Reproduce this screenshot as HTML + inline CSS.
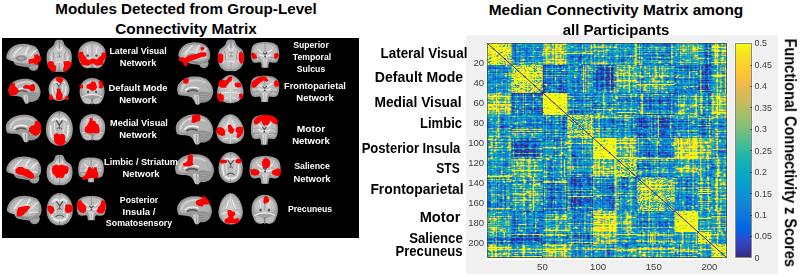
<!DOCTYPE html>
<html><head><meta charset="utf-8"><style>
html,body{margin:0;padding:0;background:#fff;}
body{width:800px;height:277px;overflow:hidden;position:relative;font-family:"Liberation Sans",sans-serif;}
.t{position:absolute;width:300px;text-align:center;white-space:nowrap;transform-origin:center;}
.tk{position:absolute;font-size:8.7px;line-height:8.7px;color:#404040;white-space:nowrap;}
.mk{position:absolute;background:rgba(40,40,40,.6);}
.tk2{font-size:9.6px;line-height:9.6px;}
#blk{position:absolute;left:2px;top:38px;width:357px;height:200px;background:#000;}
#gray{position:absolute;left:466px;top:35px;width:311.6px;height:238.8px;background:#f0f0f0;}
#mwhite{position:absolute;left:486px;top:42px;width:241.6px;height:217.6px;background:#fff;}
#mat{position:absolute;left:487.3px;top:43.3px;width:239.4px;height:215px;overflow:hidden;}
#mat svg,#mat canvas{position:absolute;left:0;top:0;width:239.4px;height:215px;}
#mbox{position:absolute;left:487px;top:43px;width:239.7px;height:215.4px;box-sizing:border-box;border:1px solid rgba(40,40,40,.55);}
#cwhite{position:absolute;left:734px;top:42.3px;width:18.8px;height:217.2px;background:#fff;}
#cbar{position:absolute;left:735px;top:43.3px;width:16.8px;height:215px;box-sizing:border-box;border:1px solid rgba(40,40,40,.55);background-clip:padding-box;background-color:#fff;background-image:linear-gradient(to bottom,#f9fb0e 0.00%,#f6f313 1.59%,#f5eb18 3.17%,#f5e41d 4.76%,#f5de21 6.35%,#f7d826 7.94%,#fad32a 9.52%,#fcce2e 11.11%,#fec832 12.70%,#ffc337 14.29%,#fdbe3d 15.87%,#f8bb44 17.46%,#f1b94a 19.05%,#e9b94e 20.63%,#e1b952 22.22%,#d9ba56 23.81%,#d1bb59 25.40%,#c8bc5d 26.98%,#c0bc60 28.57%,#b7bd64 30.16%,#aebe67 31.75%,#a5be6b 33.33%,#9cbf6f 34.92%,#92bf73 36.51%,#87bf77 38.10%,#7cbf7b 39.68%,#71bf80 41.27%,#65be86 42.86%,#59bd8c 44.44%,#4dbc92 46.03%,#42bb98 47.62%,#38b99e 49.21%,#2eb7a4 50.79%,#25b5a9 52.38%,#1db3af 53.97%,#15b1b4 55.56%,#0faeb9 57.14%,#0aacbe 58.73%,#07a9c2 60.32%,#06a7c6 61.90%,#06a4ca 63.49%,#06a0cd 65.08%,#079ccf 66.67%,#0998d1 68.25%,#0c93d2 69.84%,#108ed2 71.43%,#1389d3 73.02%,#1485d4 74.60%,#1481d6 76.19%,#127dd8 77.78%,#1079da 79.37%,#0d75dc 80.95%,#0871de 82.54%,#046de0 84.13%,#0268e1 85.71%,#0363e1 87.30%,#0f5cdd 88.89%,#2053d4 90.48%,#2c4ac7 92.06%,#3243ba 93.65%,#353dad 95.24%,#3637a0 96.83%,#363093 98.41%,#352a87 100.00%);}
#ylab{position:absolute;left:790.3px;top:153.0px;width:0;height:0;}
#ylab div{position:absolute;left:-150px;top:-7.8px;width:300px;text-align:center;font-size:15.6px;line-height:15.6px;font-weight:bold;white-space:nowrap;transform:rotate(90deg) scaleX(0.931);}
</style></head><body>
<div id="blk"></div>
<svg id="brains" width="800" height="277" viewBox="0 0 800 277" style="position:absolute;left:0;top:0"><defs>
<filter id="bl" x="-10%" y="-10%" width="120%" height="120%"><feGaussianBlur stdDeviation="0.45"/></filter>
<filter id="bl2" x="-10%" y="-10%" width="120%" height="120%"><feGaussianBlur stdDeviation="0.25"/></filter>
<radialGradient id="gW" cx="50%" cy="50%" r="55%"><stop offset="0" stop-color="#d0d0d0"/><stop offset="0.7" stop-color="#c2c2c2"/><stop offset="1" stop-color="#adadad"/></radialGradient>
<symbol id="sagL" viewBox="0 0 100 100" preserveAspectRatio="none" overflow="visible">
 <path id="pSL" d="M0.8,52.8 C0,34.3 12.6,11.1 32.3,4.2 C48,-1.4 67.7,0.9 83.5,10.2 C94.5,19.4 100,36.6 99.2,52.8 C98.8,62 96,69 92.1,72.2 C96,78.2 95.3,92.1 85.4,98.1 C76.4,101.4 67.7,96.8 65.7,87.5 C55.9,84.3 40.2,82.9 30.3,79.2 C25.2,75.9 22.4,69 20.5,64.4 C12.6,63 4.7,61.1 0.8,52.8Z" fill="#9a9a9a"/>
 <path d="M8,50 C8,32 20,16 38,11 C52,7 68,9 80,16 C90,24 93,38 92,52 C91,62 86,68 80,70 C65,74 45,72 30,68 C18,64 9,60 8,50Z" fill="url(#gW)"/>
 <ellipse cx="44" cy="54" rx="17" ry="11" fill="#8e8e8e"/>
 <ellipse cx="44" cy="54" rx="9" ry="5" fill="#a8a8a8"/>
 <g fill="none" stroke="#f0f0f0" stroke-width="4" stroke-linecap="round" opacity="0.85">
  <path d="M22,46 Q30,26 45,14"/><path d="M56,38 Q60,24 66,12"/><path d="M72,44 Q80,30 88,24"/><path d="M64,60 Q76,56 88,58"/>
 </g>
 <g fill="none" stroke="#a0a0a0" stroke-width="2.2" stroke-linecap="round"><path d="M38,28 Q45,18 52,10"/><path d="M62,32 Q70,22 78,16"/><path d="M14,40 Q20,28 30,20"/></g>
 <path d="M30,72 C45,76 58,78 66,84 C72,80 82,76 92,74" fill="none" stroke="#6e6e6e" stroke-width="2.2"/>
 <ellipse cx="80" cy="87" rx="11" ry="8" fill="#9c9c9c"/>
 <path d="M72,86 Q80,82 90,86" fill="none" stroke="#c8c8c8" stroke-width="1.5"/>
</symbol>
<symbol id="sagM" viewBox="0 0 100 100" preserveAspectRatio="none" overflow="visible">
 <path d="M1.6,60.6 C-1,52 -1,42 -0.6,41.5 C1,32 3,27 6.5,22.5 C12,15 17,10 22.6,7.6 C29,4 35,1.5 41.9,0.8 C49,0 56,0 62.9,1.3 C70,3 76,6 80.6,9.7 C86,14 90,20 93.5,26.7 C97,33 99,40 100,47.9 C101,54 100,61 98.4,66.9 C97,73 95,78 91.9,81.8 C88,86 84,89 79,91.5 C75,93 70,93 66.1,92.4 C64,95 62,99 59.7,100 C57,101 54,100 51.6,98.7 C50,94 48,90 46.8,86 C44,80 41,76 38.7,73.3 C34,71 30,70 25.8,69.1 C20,68.5 15,68.5 11.3,67.8 C8,67 5,66 3.2,64.8 C2.5,63.5 2,62 1.6,60.6Z" fill="#9a9a9a"/>
 <path d="M7,56 C5,42 9,28 20,18 C30,10 44,6 58,7 C72,8 84,16 90,28 C95,38 95,50 92,58 C86,54 74,52 62,54 C50,50 40,52 32,58 C24,62 14,62 7,56Z" fill="#b4b4b4"/>
 <path d="M12,50 C12,36 22,22 38,16 C52,12 68,14 78,22" fill="none" stroke="#cfcfcf" stroke-width="6"/>
 <path d="M22.6,50 C26,44 29,41 32.3,40.7 C37,38.5 41,38 45.2,38.1 C51,38.5 57,40 61.3,43.6" fill="none" stroke="#f2f2f2" stroke-width="5"/>
 <path d="M27.4,55 C33,50 37,48.5 41.9,48.5 C48,48.5 53,50 58,53" fill="none" stroke="#5a5a5a" stroke-width="6"/>
 <path d="M38,56 C44,54 54,54 60,58 L62,70 C56,72 46,72 40,68Z" fill="#9e9e9e"/>
 <path d="M46,66 C50,64 58,64 61,68 L60,98 L52,98 C50,90 48,80 46,72Z" fill="#cdcdcd"/>
 <path d="M55,68 L56,96" stroke="#7c7c7c" stroke-width="2"/>
 <path d="M61,58 C70,54 84,56 94,64 C95,74 92,82 86,87 C80,91 72,92 66,90 C63,82 62,70 61,58Z" fill="#8e8e8e"/>
 <g fill="none" stroke="#b8b8b8" stroke-width="1.5"><path d="M64,64 Q78,60 92,67"/><path d="M64,72 Q78,68 93,75"/><path d="M65,80 Q78,77 90,82"/></g>
 <path d="M80,30 C86,40 90,50 92,58" fill="none" stroke="#aaaaaa" stroke-width="3"/>
</symbol>
<symbol id="axI" viewBox="0 0 100 100" preserveAspectRatio="none" overflow="visible">
 <path d="M49.7,1.3 C42.8,-1.3 33.7,2.2 32.1,8.7 C29.4,19.6 18.7,23.9 8,30.4 C0,39.1 -1.6,54.3 1.6,69.6 C5.3,84.8 18.7,95.7 37.4,98.7 L49.7,97.8 L61.5,98.7 C80.2,95.7 93.6,84.8 97.3,69.6 C100.5,54.3 99,39.1 90.9,30.4 C80.2,23.9 69.5,19.6 66.8,8.7 C65.2,2.2 56.1,-1.3 49.7,1.3Z" fill="#9e9e9e"/>
 <path d="M50,8 C42,8 38,14 37,22 C30,28 14,34 10,48 C7,62 12,80 26,88 C36,93 44,92 50,90 C56,92 64,93 74,88 C88,80 93,62 90,48 C86,34 70,28 63,22 C62,14 58,8 50,8Z" fill="url(#gW)"/>
 <path d="M50,3 L50,26" stroke="#7a7a7a" stroke-width="3"/>
 <path d="M36,20 Q42,26 46,34 M64,20 Q58,26 54,34" fill="none" stroke="#f2f2f2" stroke-width="3"/>
 <circle cx="50" cy="47" r="10" fill="#b0b0b0"/>
 <path d="M42,44 Q50,56 58,44" fill="none" stroke="#eeeeee" stroke-width="3"/>
 <circle cx="50" cy="50" r="3" fill="#888"/>
 <g fill="none" stroke="#8a8a8a" stroke-width="2.5"><path d="M24,34 Q32,46 28,62"/><path d="M76,34 Q68,46 72,62"/></g>
 <g fill="none" stroke="#efefef" stroke-width="3"><path d="M16,50 Q22,62 20,74"/><path d="M84,50 Q78,62 80,74"/><path d="M36,70 Q50,64 64,70"/></g>
 <path d="M50,72 L50,97" stroke="#8a8a8a" stroke-width="2"/>
</symbol>
<symbol id="axM" viewBox="0 0 100 100" preserveAspectRatio="none" overflow="visible">
 <path d="M50,0 C74,0 98,20 100,50 C101,80 80,100 50,100 C20,100 -1,80 0,50 C2,20 26,0 50,0Z" fill="#9c9c9c"/>
 <path d="M50,6 C70,6 91,24 92,50 C93,76 74,94 50,94 C26,94 7,76 8,50 C9,24 30,6 50,6Z" fill="#bcbcbc"/>
 <g fill="none" stroke="#ececec" stroke-width="6" stroke-linecap="round"><path d="M24,26 Q36,16 46,24"/><path d="M76,26 Q64,16 54,24"/><path d="M18,42 Q16,58 22,74"/><path d="M82,42 Q84,58 78,74"/><path d="M28,80 Q50,92 72,80"/></g>
 <g fill="none" stroke="#e4e4e4" stroke-width="4"><path d="M32,34 Q30,50 36,62"/><path d="M68,34 Q70,50 64,62"/></g>
 <path d="M38,26 L50,40 L62,26" fill="none" stroke="#4e4e4e" stroke-width="4"/>
 <path d="M50,38 L50,52" stroke="#5a5a5a" stroke-width="3"/>
 <path d="M40,52 L50,46 L60,52" fill="none" stroke="#6a6a6a" stroke-width="3"/>
 <path d="M34,74 Q50,62 66,74" fill="none" stroke="#5a5a5a" stroke-width="3.5"/>
 <path d="M50,1 L50,12 M50,86 L50,99" stroke="#6e6e6e" stroke-width="2.2"/>
</symbol>
<symbol id="axS" viewBox="0 0 100 100" preserveAspectRatio="none" overflow="visible">
 <path d="M50,0 C72,0 95,25 100,55 C103,82 80,100 50,100 C20,100 -3,82 0,55 C5,25 28,0 50,0Z" fill="#a0a0a0"/>
 <path d="M50,6 C70,6 90,28 93,55 C95,78 76,94 50,94 C24,94 5,78 7,55 C10,28 30,6 50,6Z" fill="url(#gW)"/>
 <path d="M50,3 L50,97" stroke="#f4f4f4" stroke-width="3.5"/>
 <path d="M50,3 L50,97" stroke="#8a8a8a" stroke-width="1"/>
 <g fill="none" stroke="#f2f2f2" stroke-width="3"><path d="M44,20 Q36,40 30,50"/><path d="M56,20 Q64,40 70,50"/><path d="M44,62 Q25,60 10,68"/><path d="M56,62 Q75,60 90,68"/><path d="M42,80 Q30,80 20,88"/><path d="M58,80 Q70,80 80,88"/></g>
 <g fill="none" stroke="#a6a6a6" stroke-width="2.5"><path d="M38,14 Q26,34 16,44"/><path d="M62,14 Q74,34 84,44"/><path d="M40,52 Q22,50 8,58"/><path d="M60,52 Q78,50 92,58"/></g>
</symbol>
<symbol id="coP" viewBox="0 0 100 100" preserveAspectRatio="none" overflow="visible">
 <path d="M50,0 C78,0 100,20 100,48 C100,62 97,72 92,80 C88,92 75,100 62,98 L55,92 L50,100 L45,92 L38,98 C25,100 12,92 8,80 C3,72 0,62 0,48 C0,20 22,0 50,0Z" fill="#9e9e9e"/>
 <path d="M50,7 C72,7 92,24 92,48 C92,58 88,64 80,66 L20,66 C12,64 8,58 8,48 C8,24 28,7 50,7Z" fill="url(#gW)"/>
 <path d="M50,2 L50,52" stroke="#8a8a8a" stroke-width="2.5"/>
 <g fill="none" stroke="#f2f2f2" stroke-width="3"><path d="M30,18 Q36,32 34,44"/><path d="M70,18 Q64,32 66,44"/></g>
 <path d="M10,70 Q50,52 90,70" fill="none" stroke="#f4f4f4" stroke-width="3.5"/>
 <circle cx="34" cy="52" r="4.5" fill="#555"/><circle cx="66" cy="52" r="4.5" fill="#555"/>
 <path d="M14,72 C24,70 40,74 48,84 L48,94 C40,98 26,96 16,88Z M86,72 C76,70 60,74 52,84 L52,94 C60,98 74,96 84,88Z" fill="#b8b8b8"/>
 <g fill="none" stroke="#d8d8d8" stroke-width="1.6"><path d="M16,80 Q30,76 45,84"/><path d="M84,80 Q70,76 55,84"/><path d="M20,88 Q32,86 44,92"/><path d="M80,88 Q68,86 56,92"/></g>
 <path d="M50,76 L50,98" stroke="#6a6a6a" stroke-width="2.5"/>
</symbol>
<symbol id="coM" viewBox="0 0 100 100" preserveAspectRatio="none" overflow="visible">
 <path d="M49.5,0 C62,0 74,2 82.5,5.8 C91,10 96,17 97.6,25.7 C99.5,33 100,40 100,47.8 C100,55 99,60 97.6,65.5 C96.5,70 95,73.5 92.9,76.5 C89,80 84,81.5 80.2,81 C75,80.5 70,79.5 66,78.8 C64,81 63,83 62.7,85.4 C62,90 61.5,95 61.3,100 L37.7,100 C37.5,95 37,90 36.3,85.4 C36,83 35,81 33,78.8 C29,79.5 24,80.5 18.9,81 C15,81.5 10,80 6.1,76.5 C4,73.5 2.5,70 1.4,65.5 C0.5,60 0,55 0,47.8 C0,40 0.5,33 2.4,25.7 C4,17 9,10 16.5,5.8 C25,2 37,0 49.5,0Z" fill="#9e9e9e"/>
 <path d="M50,7 C70,7 88,14 91,30 C93,42 93,56 90,64 C86,70 78,70 70,68 L62,66 L60,76 L40,76 L38,66 L30,68 C22,70 14,70 10,64 C7,56 7,42 9,30 C12,14 30,7 50,7Z" fill="#bebebe"/>
 <g fill="none" stroke="#ededed" stroke-width="5" stroke-linecap="round"><path d="M22,24 Q34,40 44,42"/><path d="M78,24 Q66,40 56,42"/><path d="M30,50 Q40,56 46,54"/><path d="M70,50 Q60,56 54,54"/></g>
 <g fill="none" stroke="#a0a0a0" stroke-width="2.5"><path d="M12,20 Q22,30 28,26"/><path d="M88,20 Q78,30 72,26"/><path d="M10,44 Q18,48 24,44"/><path d="M90,44 Q82,48 76,44"/></g>
 <path d="M50,2 L50,38" stroke="#808080" stroke-width="2.5"/>
 <path d="M42,40 L50,48 L58,40" fill="none" stroke="#4a4a4a" stroke-width="4"/>
 <circle cx="50" cy="56" r="3.5" fill="#5a5a5a"/>
 <g fill="none" stroke="#777" stroke-width="2.5"><path d="M6,64 Q18,58 32,62"/><path d="M94,64 Q82,58 68,62"/></g>
 <path d="M12,70 Q22,74 32,72 M88,70 Q78,74 68,72" fill="none" stroke="#bdbdbd" stroke-width="2"/>
 <path d="M42,66 L45,99 L55,99 L58,66Z" fill="#d6d6d6"/>
 <path d="M50,68 L50,98" stroke="#888" stroke-width="1.5"/>
</symbol>
</defs><g filter="url(#bl)"><use href="#sagL" x="6.05" y="43.40" width="34.41" height="27.67"/><use href="#axI" x="46.53" y="39.62" width="25.64" height="32.79"/><use href="#coP" x="78.25" y="41.37" width="27.67" height="27.40"/><use href="#sagM" x="8.75" y="78.72" width="31.71" height="24.97"/><use href="#axM" x="48.56" y="76.70" width="20.92" height="24.29"/><use href="#coP" x="79.60" y="78.05" width="24.97" height="26.72"/><use href="#sagM" x="6.05" y="114.72" width="35.09" height="27.67"/><use href="#axM" x="45.86" y="111.35" width="26.99" height="34.41"/><use href="#coP" x="79.60" y="114.05" width="25.64" height="26.99"/><use href="#sagL" x="6.05" y="156.05" width="35.36" height="27.67"/><use href="#axI" x="46.53" y="154.70" width="26.32" height="31.04"/><use href="#coM" x="78.25" y="157.40" width="25.64" height="24.97"/><use href="#sagL" x="6.72" y="195.40" width="35.09" height="29.01"/><use href="#axM" x="46.53" y="192.97" width="26.32" height="32.39"/><use href="#coM" x="76.90" y="196.07" width="29.01" height="24.29"/><use href="#sagL" x="178.05" y="42.05" width="32.39" height="26.32"/><use href="#axI" x="217.86" y="39.35" width="26.32" height="32.39"/><use href="#coM" x="250.92" y="42.05" width="28.34" height="25.64"/><use href="#sagM" x="177.37" y="76.37" width="35.76" height="28.34"/><use href="#axS" x="217.18" y="75.02" width="26.32" height="28.34"/><use href="#coM" x="250.25" y="75.70" width="29.01" height="26.32"/><use href="#sagM" x="176.02" y="114.37" width="37.11" height="30.36"/><use href="#axS" x="216.51" y="114.37" width="27.67" height="29.69"/><use href="#coM" x="250.92" y="115.05" width="26.99" height="29.69"/><use href="#sagM" x="175.35" y="154.05" width="38.46" height="30.36"/><use href="#axM" x="218.53" y="152.02" width="24.29" height="31.04"/><use href="#coM" x="249.57" y="156.07" width="31.04" height="27.67"/><use href="#sagM" x="177.37" y="196.07" width="34.41" height="28.34"/><use href="#axS" x="218.53" y="193.37" width="24.29" height="31.04"/><use href="#coP" x="251.60" y="194.72" width="26.32" height="29.69"/></g><g filter="url(#bl2)"><polygon fill="#ff0000" points="28.32,59.59 34.12,58.24 34.39,54.46 37.36,54.46 39.79,56.22 41.14,56.89 40.87,61.21 38.71,62.56 38.17,64.99 35.47,64.45 33.31,63.10 28.99,63.91"/><polygon fill="#ff0000" points="47.21,62.97 49.50,61.21 53.28,61.21 53.96,64.32 56.25,66.61 55.71,71.74 52.20,71.47 48.56,67.96"/><polygon fill="#ff0000" points="63.40,61.62 68.13,60.94 71.91,62.56 71.10,65.67 68.40,69.71 64.75,71.74 62.73,69.71 64.08,66.34"/><polygon fill="#ff0000" points="78.25,52.17 82.97,51.50 83.65,54.87 85.94,56.89 87.02,59.59 89.72,60.27 91.74,58.24 94.85,58.65 96.74,59.59 98.63,57.57 101.19,55.81 101.87,52.84 106.18,52.17 105.91,57.97 103.48,60.67 102.54,64.99 96.47,65.67 92.69,62.97 88.37,65.67 81.62,64.99 80.27,61.62 78.65,58.24"/><polygon fill="#ff0000" points="8.75,88.17 10.10,85.07 12.53,82.77 14.82,83.45 15.50,86.82 17.52,88.17 18.87,90.87 16.84,94.24 14.82,95.32 11.45,95.86 9.02,94.24"/><polygon fill="#ff0000" points="22.92,86.82 25.62,84.80 29.67,85.47 33.04,83.72 35.06,85.47 35.06,89.52 33.71,91.54 31.01,91.27 28.99,89.11 25.62,88.84 23.59,88.84"/><polygon fill="#ff0000" points="55.98,78.05 58.68,76.70 62.05,77.37 63.40,79.40 62.46,82.10 60.30,83.45 58.01,82.10 56.25,80.75"/><polygon fill="#ff0000" points="57.33,88.84 60.03,89.11 61.38,92.22 62.73,94.92 62.73,98.97 60.03,100.32 56.66,99.91 55.71,96.94 56.66,92.89"/><polygon fill="#ff0000" points="48.56,95.59 51.26,94.51 53.01,96.67 52.20,99.64 49.50,99.91"/><polygon fill="#ff0000" points="64.75,96.67 67.45,96.27 69.07,98.02 68.13,99.91 65.43,99.64"/><polygon fill="#ff0000" points="86.75,84.80 90.39,83.45 91.74,81.42 95.12,81.83 96.47,84.80 97.14,87.50 95.12,90.19 91.74,90.87 89.04,89.11 86.35,88.17"/><polygon fill="#ff0000" points="98.09,81.42 101.19,80.75 102.94,82.37 103.21,87.50 101.19,88.84 98.90,87.77 99.44,84.80"/><polygon fill="#ff0000" points="79.19,85.07 82.70,84.80 83.24,88.17 80.00,88.57"/><polygon fill="#ff0000" points="28.99,128.22 31.01,125.92 34.39,125.11 35.06,121.47 37.36,120.53 39.79,122.82 41.14,126.19 40.87,131.59 38.44,134.56 35.47,135.91 32.36,134.29 31.01,132.94 28.99,131.59"/><polygon fill="#ff0000" points="53.96,134.97 55.98,133.21 58.41,133.75 59.76,135.37 61.38,133.75 63.81,134.29 65.43,136.72 64.89,139.96 65.97,142.39 64.08,143.74 62.46,145.63 59.76,145.90 57.60,144.82 55.44,143.20 53.82,140.50"/><polygon fill="#ff0000" points="89.72,118.37 92.15,117.83 92.69,120.80 95.12,121.07 96.47,123.50 98.49,124.84 99.44,128.89 99.84,132.27 97.14,133.21 93.77,132.94 90.39,133.62 87.02,132.94 84.59,131.59 85.00,127.54 87.02,125.52 88.37,122.82 89.72,120.80"/><polygon fill="#ff0000" points="15.50,169.54 18.19,167.11 22.24,166.84 24.94,168.87 28.32,169.54 31.01,171.57 33.71,174.27 34.39,178.32 31.01,178.72 28.32,177.64 24.94,176.29 22.24,174.94 18.19,174.27 15.77,172.92"/><polygon fill="#ff0000" points="52.61,166.17 55.98,164.42 58.68,165.50 61.38,164.42 64.35,165.50 68.13,166.84 68.80,170.22 67.45,173.59 64.75,174.27 63.40,177.64 61.38,178.32 59.35,177.37 56.66,178.32 55.31,176.29 52.61,173.59 51.66,169.54"/><polygon fill="#ff0000" points="88.37,167.11 90.39,166.84 91.07,168.87 92.69,169.27 94.44,167.11 96.74,167.52 97.14,170.89 98.49,174.27 98.09,177.64 95.12,178.32 91.07,177.91 86.75,178.99 82.97,180.34 82.70,176.97 85.00,174.94 86.35,172.24 87.70,169.54"/><polygon fill="#ff0000" points="18.19,207.54 22.24,206.46 25.62,205.92 28.32,205.92 30.34,206.46 28.99,208.89 26.29,211.32 23.59,214.97 20.89,216.32 17.11,216.32 16.57,213.21 17.52,210.24"/><polygon fill="#ff0000" points="47.21,205.92 50.31,205.52 53.28,206.87 54.63,210.24 53.01,212.94 50.58,214.56 49.23,212.27 47.61,210.24"/><polygon fill="#ff0000" points="65.43,204.84 69.48,204.17 72.45,205.92 72.85,210.24 70.15,212.67 66.51,212.94 64.75,210.24"/><polygon fill="#ff0000" points="77.17,201.47 80.95,200.12 82.30,202.82 85.00,204.84 86.35,207.54 85.67,211.59 83.65,213.21 80.27,212.27 77.57,208.89 76.90,204.84"/><polygon fill="#ff0000" points="101.87,200.12 104.56,200.80 105.64,204.84 105.24,210.24 102.94,213.21 98.90,213.62 96.47,211.32 98.09,207.54 100.52,204.84"/><polygon fill="#ff0000" points="178.72,58.24 182.10,56.89 184.80,57.97 188.84,55.54 192.89,54.87 196.27,53.92 200.99,52.17 205.04,52.17 206.66,53.52 206.12,56.22 202.34,56.89 198.29,58.24 194.24,59.86 190.19,60.94 187.50,62.97 186.82,66.34 184.12,65.67 182.77,62.02 180.07,61.21 178.72,60.27"/><polygon fill="#ff0000" points="200.32,47.45 203.01,46.77 204.36,48.80 203.01,50.82 200.99,50.15"/><polygon fill="#ff0000" points="217.86,53.92 221.23,53.52 223.26,54.87 223.26,60.94 221.50,62.97 218.53,62.97 217.86,59.59"/><polygon fill="#ff0000" points="239.05,52.84 241.48,51.50 243.50,54.19 244.18,59.59 242.15,63.64 239.86,63.37 238.78,59.59"/><polygon fill="#ff0000" points="250.92,53.11 253.62,52.84 256.59,55.27 257.00,58.24 254.30,58.92 251.60,57.57"/><polygon fill="#ff0000" points="274.13,53.92 276.83,52.84 279.26,54.87 278.18,56.89 275.89,58.92 274.13,58.24"/><polygon fill="#ff0000" points="183.18,79.75 186.15,78.13 188.84,78.67 188.57,82.45 186.82,83.80 183.45,83.53"/><polygon fill="#ff0000" points="219.21,81.10 222.31,79.48 225.96,80.42 227.98,77.72 230.41,75.97 232.30,77.05 231.76,80.83 229.33,82.45 226.90,85.82 225.96,87.84 221.23,87.84 218.26,85.82"/><polygon fill="#ff0000" points="234.73,83.12 238.51,82.45 241.21,83.80 241.48,87.17 237.43,87.57 235.00,86.50"/><polygon fill="#ff0000" points="216.91,93.92 220.56,93.24 223.66,95.27 223.93,99.32 221.91,102.01 219.21,101.61 217.18,97.97"/><polygon fill="#ff0000" points="239.05,93.92 241.48,93.24 243.10,95.94 242.15,98.91 239.45,98.64"/><polygon fill="#ff0000" points="251.19,83.12 253.62,80.42 257.67,77.72 261.72,76.37 265.77,76.78 268.47,80.42 267.12,81.77 263.74,80.42 260.37,82.45 257.00,85.82 254.97,87.84 251.60,87.57"/><polygon fill="#ff0000" points="274.13,81.77 276.29,79.75 278.99,82.45 278.99,85.82 276.56,87.17 274.13,85.82"/><polygon fill="#ff0000" points="192.22,115.72 195.59,114.37 199.64,114.78 200.72,118.42 199.64,121.12 196.94,121.80 194.24,122.88 191.54,122.47 191.81,119.10"/><polygon fill="#ff0000" points="217.18,127.87 220.56,126.92 223.66,128.54 225.28,131.24 225.01,135.29 221.91,135.97 218.53,134.62 216.11,132.59"/><polygon fill="#ff0000" points="227.98,125.17 230.68,124.50 232.30,127.19 234.05,129.22 233.38,133.27 230.68,133.67 228.25,131.24"/><polygon fill="#ff0000" points="235.81,127.87 239.45,126.52 243.50,127.19 243.10,132.59 240.80,135.97 238.51,137.99 236.35,137.32 237.43,133.27 235.40,131.24"/><polygon fill="#ff0000" points="253.62,121.80 254.97,118.42 258.35,116.13 263.07,115.05 268.47,115.05 273.19,116.13 276.56,118.42 277.64,121.80 276.83,124.50 273.87,123.82 271.44,121.80 270.09,120.45 269.14,123.82 267.12,125.17 263.74,125.17 262.39,123.82 261.72,120.72 260.37,121.80 257.67,124.23 254.70,124.50"/><polygon fill="#ff0000" points="188.17,155.40 190.87,154.32 192.89,155.67 192.89,159.45 192.62,162.82 193.57,164.84 190.19,166.19 186.82,166.46 183.45,165.92 182.77,163.50 185.47,162.82 187.50,160.80 187.50,158.10"/><polygon fill="#ff0000" points="219.88,160.12 222.58,159.45 226.63,160.12 226.90,162.82 223.26,163.50 220.15,163.23"/><polygon fill="#ff0000" points="235.40,159.72 238.78,158.77 241.48,159.45 241.21,162.42 238.51,163.50 235.81,162.82"/><polygon fill="#ff0000" points="263.07,159.45 265.77,158.10 268.47,158.77 270.09,161.47 270.09,165.52 268.47,167.81 264.69,168.22 262.39,165.92 261.99,162.15"/><polygon fill="#ff0000" points="250.25,169.57 254.30,168.89 258.35,169.97 259.70,172.27 258.35,174.97 254.30,175.64 250.92,174.29"/><polygon fill="#ff0000" points="273.60,170.24 276.29,168.89 278.59,168.22 280.61,169.57 280.88,173.62 279.26,176.32 275.89,175.64 272.25,174.29 271.84,171.59"/><polygon fill="#ff0000" points="196.27,200.80 198.97,199.45 201.67,198.77 202.07,196.48 204.36,196.07 207.06,198.77 209.36,201.47 209.36,204.17 206.39,204.57 203.69,204.84 202.34,206.87 198.97,205.92 196.27,204.57 195.59,202.82"/><polygon fill="#ff0000" points="227.31,210.24 230.68,209.97 232.30,211.59 234.73,211.86 235.40,214.97 233.38,216.32 234.05,219.01 237.43,217.67 239.45,219.42 238.78,222.39 235.40,223.74 232.03,223.06 228.66,223.74 225.28,223.06 224.20,219.69 226.63,218.34 228.66,216.99 227.71,214.29"/><polygon fill="#ff0000" points="263.74,197.42 265.77,195.67 267.79,196.75 269.55,200.12 268.47,202.15 266.44,202.82 264.69,204.17 263.34,202.15"/></g></svg>
<div id="gray"></div>
<div id="mwhite"></div>
<div id="mat"><svg class="fb" width="239.4" height="215" viewBox="0 0 239.4 215"><rect x="0.00" y="0.00" width="24.80" height="22.30" fill="#cfdc34"/><rect x="24.50" y="0.00" width="31.48" height="22.30" fill="#2292bf"/><rect x="55.67" y="0.00" width="24.80" height="22.30" fill="#9ecc5f"/><rect x="80.17" y="0.00" width="25.91" height="22.30" fill="#3099b2"/><rect x="105.78" y="0.00" width="23.68" height="22.30" fill="#44a7a4"/><rect x="129.16" y="0.00" width="20.34" height="22.30" fill="#37a1ad"/><rect x="149.21" y="0.00" width="38.16" height="22.30" fill="#3196b3"/><rect x="187.07" y="0.00" width="23.68" height="22.30" fill="#53b197"/><rect x="210.45" y="0.00" width="13.66" height="22.30" fill="#3190b0"/><rect x="223.81" y="0.00" width="15.89" height="22.30" fill="#85c272"/><rect x="0.00" y="22.00" width="24.80" height="28.30" fill="#2292bf"/><rect x="24.50" y="22.00" width="31.48" height="28.30" fill="#bcd544"/><rect x="55.67" y="22.00" width="24.80" height="28.30" fill="#2779b9"/><rect x="80.17" y="22.00" width="25.91" height="28.30" fill="#3699b0"/><rect x="105.78" y="22.00" width="23.68" height="28.30" fill="#2c70b0"/><rect x="129.16" y="22.00" width="20.34" height="28.30" fill="#6fbd81"/><rect x="149.21" y="22.00" width="38.16" height="28.30" fill="#52ad99"/><rect x="187.07" y="22.00" width="23.68" height="28.30" fill="#2589bc"/><rect x="210.45" y="22.00" width="13.66" height="28.30" fill="#2f70b0"/><rect x="223.81" y="22.00" width="15.89" height="28.30" fill="#55ac98"/><rect x="0.00" y="50.00" width="24.80" height="22.30" fill="#9ecc5f"/><rect x="24.50" y="50.00" width="31.48" height="22.30" fill="#2779b9"/><rect x="55.67" y="50.00" width="24.80" height="22.30" fill="#e7e91e"/><rect x="80.17" y="50.00" width="25.91" height="22.30" fill="#288cb9"/><rect x="105.78" y="50.00" width="23.68" height="22.30" fill="#389bad"/><rect x="129.16" y="50.00" width="20.34" height="22.30" fill="#369ab0"/><rect x="149.21" y="50.00" width="38.16" height="22.30" fill="#3086b2"/><rect x="187.07" y="50.00" width="23.68" height="22.30" fill="#52ad99"/><rect x="210.45" y="50.00" width="13.66" height="22.30" fill="#3b9aa9"/><rect x="223.81" y="50.00" width="15.89" height="22.30" fill="#a4d158"/><rect x="0.00" y="72.00" width="24.80" height="23.30" fill="#3099b2"/><rect x="24.50" y="72.00" width="31.48" height="23.30" fill="#3699b0"/><rect x="55.67" y="72.00" width="24.80" height="23.30" fill="#288cb9"/><rect x="80.17" y="72.00" width="25.91" height="23.30" fill="#93c266"/><rect x="105.78" y="72.00" width="23.68" height="23.30" fill="#3b9ea9"/><rect x="129.16" y="72.00" width="20.34" height="23.30" fill="#359ab0"/><rect x="149.21" y="72.00" width="38.16" height="23.30" fill="#2b77b4"/><rect x="187.07" y="72.00" width="23.68" height="23.30" fill="#3096b3"/><rect x="210.45" y="72.00" width="13.66" height="23.30" fill="#388aaa"/><rect x="223.81" y="72.00" width="15.89" height="23.30" fill="#3ea0aa"/><rect x="0.00" y="95.00" width="24.80" height="21.30" fill="#44a7a4"/><rect x="24.50" y="95.00" width="31.48" height="21.30" fill="#2c70b0"/><rect x="55.67" y="95.00" width="24.80" height="21.30" fill="#389bad"/><rect x="80.17" y="95.00" width="25.91" height="21.30" fill="#3b9ea9"/><rect x="105.78" y="95.00" width="23.68" height="21.30" fill="#e2e821"/><rect x="129.16" y="95.00" width="20.34" height="21.30" fill="#8fc76a"/><rect x="149.21" y="95.00" width="38.16" height="21.30" fill="#358fb0"/><rect x="187.07" y="95.00" width="23.68" height="21.30" fill="#cedb3c"/><rect x="210.45" y="95.00" width="13.66" height="21.30" fill="#93c56a"/><rect x="223.81" y="95.00" width="15.89" height="21.30" fill="#3d9cab"/><rect x="0.00" y="116.00" width="24.80" height="18.30" fill="#37a1ad"/><rect x="24.50" y="116.00" width="31.48" height="18.30" fill="#6fbd81"/><rect x="55.67" y="116.00" width="24.80" height="18.30" fill="#369ab0"/><rect x="80.17" y="116.00" width="25.91" height="18.30" fill="#359ab0"/><rect x="105.78" y="116.00" width="23.68" height="18.30" fill="#8fc76a"/><rect x="129.16" y="116.00" width="20.34" height="18.30" fill="#96c560"/><rect x="149.21" y="116.00" width="38.16" height="18.30" fill="#3093b4"/><rect x="187.07" y="116.00" width="23.68" height="18.30" fill="#57b294"/><rect x="210.45" y="116.00" width="13.66" height="18.30" fill="#3ea0aa"/><rect x="223.81" y="116.00" width="15.89" height="18.30" fill="#4aa99e"/><rect x="0.00" y="134.00" width="24.80" height="34.30" fill="#3196b3"/><rect x="24.50" y="134.00" width="31.48" height="34.30" fill="#52ad99"/><rect x="55.67" y="134.00" width="24.80" height="34.30" fill="#3086b2"/><rect x="80.17" y="134.00" width="25.91" height="34.30" fill="#2b77b4"/><rect x="105.78" y="134.00" width="23.68" height="34.30" fill="#358fb0"/><rect x="129.16" y="134.00" width="20.34" height="34.30" fill="#3093b4"/><rect x="149.21" y="134.00" width="38.16" height="34.30" fill="#8dc26a"/><rect x="187.07" y="134.00" width="23.68" height="34.30" fill="#278fbc"/><rect x="210.45" y="134.00" width="13.66" height="34.30" fill="#5fad91"/><rect x="223.81" y="134.00" width="15.89" height="34.30" fill="#57b094"/><rect x="0.00" y="168.00" width="24.80" height="21.30" fill="#53b197"/><rect x="24.50" y="168.00" width="31.48" height="21.30" fill="#2589bc"/><rect x="55.67" y="168.00" width="24.80" height="21.30" fill="#52ad99"/><rect x="80.17" y="168.00" width="25.91" height="21.30" fill="#3096b3"/><rect x="105.78" y="168.00" width="23.68" height="21.30" fill="#cedb3c"/><rect x="129.16" y="168.00" width="20.34" height="21.30" fill="#57b294"/><rect x="149.21" y="168.00" width="38.16" height="21.30" fill="#278fbc"/><rect x="187.07" y="168.00" width="23.68" height="21.30" fill="#e2e821"/><rect x="210.45" y="168.00" width="13.66" height="21.30" fill="#3fa7a8"/><rect x="223.81" y="168.00" width="15.89" height="21.30" fill="#53a89a"/><rect x="0.00" y="189.00" width="24.80" height="12.30" fill="#3190b0"/><rect x="24.50" y="189.00" width="31.48" height="12.30" fill="#2f70b0"/><rect x="55.67" y="189.00" width="24.80" height="12.30" fill="#3b9aa9"/><rect x="80.17" y="189.00" width="25.91" height="12.30" fill="#388aaa"/><rect x="105.78" y="189.00" width="23.68" height="12.30" fill="#93c56a"/><rect x="129.16" y="189.00" width="20.34" height="12.30" fill="#3ea0aa"/><rect x="149.21" y="189.00" width="38.16" height="12.30" fill="#5fad91"/><rect x="187.07" y="189.00" width="23.68" height="12.30" fill="#3fa7a8"/><rect x="210.45" y="189.00" width="13.66" height="12.30" fill="#c7d638"/><rect x="223.81" y="189.00" width="15.89" height="12.30" fill="#3fa7a8"/><rect x="0.00" y="201.00" width="24.80" height="14.30" fill="#85c272"/><rect x="24.50" y="201.00" width="31.48" height="14.30" fill="#55ac98"/><rect x="55.67" y="201.00" width="24.80" height="14.30" fill="#a4d158"/><rect x="80.17" y="201.00" width="25.91" height="14.30" fill="#3ea0aa"/><rect x="105.78" y="201.00" width="23.68" height="14.30" fill="#3d9cab"/><rect x="129.16" y="201.00" width="20.34" height="14.30" fill="#4aa99e"/><rect x="149.21" y="201.00" width="38.16" height="14.30" fill="#57b094"/><rect x="187.07" y="201.00" width="23.68" height="14.30" fill="#53a89a"/><rect x="210.45" y="201.00" width="13.66" height="14.30" fill="#3fa7a8"/><rect x="223.81" y="201.00" width="15.89" height="14.30" fill="#c2d53c"/><line x1="0" y1="0" x2="239.4" y2="215" stroke="#352a87" stroke-width="1"/></svg><canvas id="cv" width="215" height="215"></canvas></div>
<div id="mbox"></div>
<div id="cwhite"></div>
<div id="cbar"></div>
<div class="t" style="left:35.65px;top:1.25px;font-size:15px;line-height:15px;color:#000;font-weight:bold;transform:scaleX(1.012);">Modules Detected from Group-Level</div><div class="t" style="left:35.60px;top:21.25px;font-size:15px;line-height:15px;color:#000;font-weight:bold;transform:scaleX(1.022);">Connectivity Matrix</div><div class="t" style="left:466.45px;top:2.15px;font-size:15px;line-height:15px;color:#000;font-weight:bold;transform:scaleX(1.028);">Median Connectivity Matrix among</div><div class="t" style="left:466.00px;top:22.25px;font-size:15px;line-height:15px;color:#000;font-weight:bold;transform:scaleX(1.000);">all Participants</div><div class="t" style="left:273.75px;top:46.38px;font-size:14.5px;line-height:14.5px;color:#000;font-weight:bold;transform:scaleX(0.923);">Lateral Visual</div><div class="t" style="left:268.80px;top:70.47px;font-size:14.5px;line-height:14.5px;color:#000;font-weight:bold;transform:scaleX(0.971);">Default Mode</div><div class="t" style="left:268.30px;top:95.17px;font-size:14.5px;line-height:14.5px;color:#000;font-weight:bold;transform:scaleX(0.951);">Medial Visual</div><div class="t" style="left:291.25px;top:115.67px;font-size:14.5px;line-height:14.5px;color:#000;font-weight:bold;transform:scaleX(0.900);">Limbic</div><div class="t" style="left:260.90px;top:140.68px;font-size:14.5px;line-height:14.5px;color:#000;font-weight:bold;transform:scaleX(0.901);">Posterior Insula</div><div class="t" style="left:298.20px;top:160.68px;font-size:14.5px;line-height:14.5px;color:#000;font-weight:bold;transform:scaleX(0.830);">STS</div><div class="t" style="left:266.50px;top:182.28px;font-size:14.5px;line-height:14.5px;color:#000;font-weight:bold;transform:scaleX(0.956);">Frontoparietal</div><div class="t" style="left:290.30px;top:210.18px;font-size:14.5px;line-height:14.5px;color:#000;font-weight:bold;transform:scaleX(1.010);">Motor</div><div class="t" style="left:286.40px;top:230.88px;font-size:14.5px;line-height:14.5px;color:#000;font-weight:bold;transform:scaleX(0.912);">Salience</div><div class="t" style="left:278.70px;top:244.07px;font-size:14.5px;line-height:14.5px;color:#000;font-weight:bold;transform:scaleX(0.904);">Precuneus</div><div class="t" style="left:-11.75px;top:46.41px;font-size:9.4px;line-height:9.4px;color:#fff;font-weight:bold;transform:scaleX(0.941);">Lateral Visual</div><div class="t" style="left:-11.80px;top:58.31px;font-size:9.4px;line-height:9.4px;color:#fff;font-weight:bold;transform:scaleX(0.989);">Network</div><div class="t" style="left:-12.10px;top:83.21px;font-size:9.4px;line-height:9.4px;color:#fff;font-weight:bold;transform:scaleX(1.003);">Default Mode</div><div class="t" style="left:-12.35px;top:95.31px;font-size:9.4px;line-height:9.4px;color:#fff;font-weight:bold;transform:scaleX(1.014);">Network</div><div class="t" style="left:-11.30px;top:118.21px;font-size:9.4px;line-height:9.4px;color:#fff;font-weight:bold;transform:scaleX(0.976);">Medial Visual</div><div class="t" style="left:-11.75px;top:130.41px;font-size:9.4px;line-height:9.4px;color:#fff;font-weight:bold;transform:scaleX(1.014);">Network</div><div class="t" style="left:-8.90px;top:157.31px;font-size:9.4px;line-height:9.4px;color:#fff;font-weight:bold;transform:scaleX(0.971);">Limbic / Striatum</div><div class="t" style="left:-9.25px;top:169.01px;font-size:9.4px;line-height:9.4px;color:#fff;font-weight:bold;transform:scaleX(1.003);">Network</div><div class="t" style="left:-10.90px;top:194.81px;font-size:9.4px;line-height:9.4px;color:#fff;font-weight:bold;transform:scaleX(0.930);">Posterior</div><div class="t" style="left:-10.80px;top:206.71px;font-size:9.4px;line-height:9.4px;color:#fff;font-weight:bold;transform:scaleX(1.019);">Insula /</div><div class="t" style="left:-10.95px;top:218.41px;font-size:9.4px;line-height:9.4px;color:#fff;font-weight:bold;transform:scaleX(0.943);">Somatosensory</div><div class="t" style="left:161.20px;top:39.61px;font-size:9.4px;line-height:9.4px;color:#fff;font-weight:bold;transform:scaleX(0.921);">Superior</div><div class="t" style="left:161.90px;top:51.71px;font-size:9.4px;line-height:9.4px;color:#fff;font-weight:bold;transform:scaleX(0.922);">Temporal</div><div class="t" style="left:161.20px;top:63.61px;font-size:9.4px;line-height:9.4px;color:#fff;font-weight:bold;transform:scaleX(0.924);">Sulcus</div><div class="t" style="left:164.70px;top:81.01px;font-size:9.4px;line-height:9.4px;color:#fff;font-weight:bold;transform:scaleX(0.981);">Frontoparietal</div><div class="t" style="left:164.70px;top:93.31px;font-size:9.4px;line-height:9.4px;color:#fff;font-weight:bold;transform:scaleX(1.011);">Network</div><div class="t" style="left:161.35px;top:123.81px;font-size:9.4px;line-height:9.4px;color:#fff;font-weight:bold;transform:scaleX(1.092);">Motor</div><div class="t" style="left:161.30px;top:136.31px;font-size:9.4px;line-height:9.4px;color:#fff;font-weight:bold;transform:scaleX(1.017);">Network</div><div class="t" style="left:161.55px;top:161.31px;font-size:9.4px;line-height:9.4px;color:#fff;font-weight:bold;transform:scaleX(0.938);">Salience</div><div class="t" style="left:161.55px;top:173.61px;font-size:9.4px;line-height:9.4px;color:#fff;font-weight:bold;transform:scaleX(1.003);">Network</div><div class="t" style="left:159.65px;top:204.41px;font-size:9.4px;line-height:9.4px;color:#fff;font-weight:bold;transform:scaleX(0.921);">Precuneus</div>
<div class="tk tk2" style="left:444.2px;width:40px;text-align:right;top:58.10px">20</div><div class="tk tk2" style="left:444.2px;width:40px;text-align:right;top:78.10px">40</div><div class="tk tk2" style="left:444.2px;width:40px;text-align:right;top:98.10px">60</div><div class="tk tk2" style="left:444.2px;width:40px;text-align:right;top:118.10px">80</div><div class="tk tk2" style="left:444.2px;width:40px;text-align:right;top:138.10px">100</div><div class="tk tk2" style="left:444.2px;width:40px;text-align:right;top:158.10px">120</div><div class="tk tk2" style="left:444.2px;width:40px;text-align:right;top:178.10px">140</div><div class="tk tk2" style="left:444.2px;width:40px;text-align:right;top:198.10px">160</div><div class="tk tk2" style="left:444.2px;width:40px;text-align:right;top:218.10px">180</div><div class="tk tk2" style="left:444.2px;width:40px;text-align:right;top:238.10px">200</div><div class="tk tk2" style="left:522.42px;width:40px;text-align:center;top:262.30px">50</div><div class="tk tk2" style="left:578.09px;width:40px;text-align:center;top:262.30px">100</div><div class="tk tk2" style="left:633.77px;width:40px;text-align:center;top:262.30px">150</div><div class="tk tk2" style="left:689.44px;width:40px;text-align:center;top:262.30px">200</div><div class="tk" style="left:754.6px;width:40px;text-align:left;top:253.85px;font-size:8.9px;line-height:8.9px">0</div><div class="tk" style="left:754.6px;width:40px;text-align:left;top:232.40px;font-size:8.9px;line-height:8.9px">0.05</div><div class="tk" style="left:754.6px;width:40px;text-align:left;top:210.95px;font-size:8.9px;line-height:8.9px">0.1</div><div class="tk" style="left:754.6px;width:40px;text-align:left;top:189.50px;font-size:8.9px;line-height:8.9px">0.15</div><div class="tk" style="left:754.6px;width:40px;text-align:left;top:168.05px;font-size:8.9px;line-height:8.9px">0.2</div><div class="tk" style="left:754.6px;width:40px;text-align:left;top:146.60px;font-size:8.9px;line-height:8.9px">0.25</div><div class="tk" style="left:754.6px;width:40px;text-align:left;top:125.15px;font-size:8.9px;line-height:8.9px">0.3</div><div class="tk" style="left:754.6px;width:40px;text-align:left;top:103.70px;font-size:8.9px;line-height:8.9px">0.35</div><div class="tk" style="left:754.6px;width:40px;text-align:left;top:82.25px;font-size:8.9px;line-height:8.9px">0.4</div><div class="tk" style="left:754.6px;width:40px;text-align:left;top:60.80px;font-size:8.9px;line-height:8.9px">0.45</div><div class="tk" style="left:754.6px;width:40px;text-align:left;top:39.35px;font-size:8.9px;line-height:8.9px">0.5</div>
<div class="mk" style="left:488px;top:62.30px;width:1.6px;height:1px"></div><div class="mk" style="left:488px;top:82.30px;width:1.6px;height:1px"></div><div class="mk" style="left:488px;top:102.30px;width:1.6px;height:1px"></div><div class="mk" style="left:488px;top:122.30px;width:1.6px;height:1px"></div><div class="mk" style="left:488px;top:142.30px;width:1.6px;height:1px"></div><div class="mk" style="left:488px;top:162.30px;width:1.6px;height:1px"></div><div class="mk" style="left:488px;top:182.30px;width:1.6px;height:1px"></div><div class="mk" style="left:488px;top:202.30px;width:1.6px;height:1px"></div><div class="mk" style="left:488px;top:222.30px;width:1.6px;height:1px"></div><div class="mk" style="left:488px;top:242.30px;width:1.6px;height:1px"></div><div class="mk" style="left:541.92px;top:256.4px;width:1px;height:1.6px"></div><div class="mk" style="left:597.59px;top:256.4px;width:1px;height:1.6px"></div><div class="mk" style="left:653.27px;top:256.4px;width:1px;height:1.6px"></div><div class="mk" style="left:708.94px;top:256.4px;width:1px;height:1.6px"></div><div class="mk" style="left:750.2px;top:236.15px;width:1.4px;height:1px"></div><div class="mk" style="left:750.2px;top:214.70px;width:1.4px;height:1px"></div><div class="mk" style="left:750.2px;top:193.25px;width:1.4px;height:1px"></div><div class="mk" style="left:750.2px;top:171.80px;width:1.4px;height:1px"></div><div class="mk" style="left:750.2px;top:150.35px;width:1.4px;height:1px"></div><div class="mk" style="left:750.2px;top:128.90px;width:1.4px;height:1px"></div><div class="mk" style="left:750.2px;top:107.45px;width:1.4px;height:1px"></div><div class="mk" style="left:750.2px;top:86.00px;width:1.4px;height:1px"></div><div class="mk" style="left:750.2px;top:64.55px;width:1.4px;height:1px"></div>
<div id="ylab"><div>Functional Connectivity z Scores</div></div>
<script>
(function(){
var P=[[53, 42, 135], [54, 48, 147], [54, 55, 160], [53, 61, 173], [50, 67, 186], [44, 74, 199], [32, 83, 212], [15, 92, 221], [3, 99, 225], [2, 104, 225], [4, 109, 224], [8, 113, 222], [13, 117, 220], [16, 121, 218], [18, 125, 216], [20, 129, 214], [20, 133, 212], [19, 137, 211], [16, 142, 210], [12, 147, 210], [9, 152, 209], [7, 156, 207], [6, 160, 205], [6, 164, 202], [6, 167, 198], [7, 169, 194], [10, 172, 190], [15, 174, 185], [21, 177, 180], [29, 179, 175], [37, 181, 169], [46, 183, 164], [56, 185, 158], [66, 187, 152], [77, 188, 146], [89, 189, 140], [101, 190, 134], [113, 191, 128], [124, 191, 123], [135, 191, 119], [146, 191, 115], [156, 191, 111], [165, 190, 107], [174, 190, 103], [183, 189, 100], [192, 188, 96], [200, 188, 93], [209, 187, 89], [217, 186, 86], [225, 185, 82], [233, 185, 78], [241, 185, 74], [248, 187, 68], [253, 190, 61], [255, 195, 55], [254, 200, 50], [252, 206, 46], [250, 211, 42], [247, 216, 38], [245, 222, 33], [245, 228, 29], [245, 235, 24], [246, 243, 19], [249, 251, 14]];
var s="A///g/n///q/////X/4///VSPGRUVPkPYVUQaVeZZeUXVPTWYWgv//mwcXt3Y/8keqni//4cWicZHOYTWCIBCVLKZVYTecPSxaJdTKYabKWXHOPLRJSgcXOjYYJXdYYdZLQN0/aKjXcKQTRGMURZQPUfgbhhZXLNIMQORuTIWdlli8i+ps2//jydyinj5bTXYRPJDQoLNVVj/3/YNU2gVokA///////51/d//7s/h///SPPIWc4arQaacSZNTSZjWYRRXSPUj5//i6fa//i///3/23///eaZUWJMZVWHWFHdTYfQRIbjXi/ZMgXRVlwQYYIVcXaJTvueUhWYQeeYWWXQYZ//dJhMUGJLVIJSOYSIJQKKQRJLFJEIKEJhOFMSgeVaMddbbWjctXuZaZjcUeWPXMGMdETjVa6o/ZPc/qYjVA4///////1//pP2/a/gjJKHCYVbNeLTYgRQLPNSfZZQTRNPShmh/j/hWozY//qj//gmbfSgfWXVXijcLXJNpSYfXkVh7bf/XLfbcW1/begMXhWbKWqaWPaNPLaWPTRUMSPf/iOrMeQLMLFGPPjcSOQILJHEMGHAAEEUtcORTVpUdP/5cZUwdiU4WZWkzZmfYVIBLfBIi5s/y/2cZuiasdA/o//w/8ap/Ph/ua//mJHFEWLMDbPZSiZSKQLQZQQVdONRObsh/qyhchoU//lf//cfcjabZef/aULQDUJLtQNVHZYj/cn/sd8jvl7vZpwZr/cUSn/bRLZIOUcVOcNKGKLc/aSqWjXNXIKNSYncbccXbWSUbYcMILJPuqTceZfc4f/rhsi/kkf/ordmoTsvgZGALZCGn/+/z//iUjga3iA///5////3//////x/SONPdWXMgZdTXRVbfTVmWXj/aSVUgsl///+ghmV/5972uesytfbccewZbelVZVXyZgjVfWm/ot/2h/57526i2ydq/hf2//paSoRcbWZS1VUVROi/oq/tqZWmVaggr3fjj/uphifds8YWbZc/5degbjZxVqbhkcjciY/p8hx/egcXcOGShJH////////5/////Ak//////+//8/vwz/PMGFdZZDVIRIRCJKVGMfLNMIIEGKjrt/31wmtye/vx7//mwmeeulXWWQYimXZPZoWfufZPg6cUiZLhWSfbeNadNWaaTSUbidRhfgiiuRidhZZZ4/QOiQUIKaHUyPPYTTRxmgTUbflbHOWQLlUMXYdhTkWzjigcobgh///gn/9/pheTNTvbYhmn/j/bSMjjg6WA/////7j////2///SQJEhkQDVLPKVOPSdbZgSbVLMNVU1w//3vif7///3v6//l0ljhZXMMWMPQSKNDHTIRkVSNlhMOjjLdSLVVmYi/nYQLKIUgjcNVPPSffNZdbNSXi/aXzagQWhRUkbhmVXX1mjVZpvjhTSTPT4eYbgz/a9p/3/2jwgpg////9ZZegiREAAXGVs3u/u/vaQjjipVA//11////5////uPQEASRKAWSXHHAJTUMUXbSGHHOOMdf//ikfasub/ojw/reldllaZSRYRUWdWbNcaNWsXWPniTe/1V2wete9e4/ohdXWXvjciSaSUh7uaZVaRdet/TKeQYLVYMKVTRYMPQaZTPVacjYMLLHItfZQYWaKdV45tiXcWgb3xyhjZWagaMUkadFQww9////1h////2A///wp/3//////YYPHj4kVlekdTLXhYTdn/qYueicg/z//2//3//p////////v/oegYYVXiuqXhQVhadyp2Xo8mjybT//m2m+YrpWfdaUZmechVpVOPhgcUOSPdbo/hS6bmbccSZi1afUTTpnbcsbiqZONQRS7iWdxXaSxc06kogncmg/02r47lqzrbXZi5afifr////qe+///0A//RY/+/h/xe/aXNEdfUFdPVQNEMOQLVdXTFMVcRhqgj/dsjo//a8zhdq1/vafOWcQVXazfjPhPWl92rReQg1bQePJncSWPmRuhLWfZRfaWXVPbROPgZPQMTPXTi/RCiRdQBHDINUMOHEChVJIJCMSJBAACS/VALYQTQ5WcXWaSdZuYldeWeOFIMMAAALZCAHHQ8Z0TIHiyfjNAjz/////////ONMKWQKBXOXPPGJHMKVxWUJSdVMe/3////kf8/4//0u677/2/t//r7/8/v7h/zp/77/k/////QibV2dTcW1RelLOVLLSUYbXRYUROiYNRNUOVUj/hT3YmXNqpibbbaXWa/sZVWRZbbSaSMW/2Ta/gbZ/08st/fog1WnjmdmbTWZfTJGKfOMfai/w/lWUzxcvYA////s/5gg/VUSGVTUJbVmVTLPNTYVgVZTTcWT43kw/i7XV15e1sjanxgsu/gUYOQRXWPTKXHFcZQdIfVapYNgeS/iQTSzbhhLPWJRUUZeaMTaSKrWOMDHEQPk/sazXgbRhTRXQadPLNcyfVaOOMSTgbKS1TIMxTONpVjSZnPXRlMebraehidcdSKFN1WRpgg/3/hUU2nbxVA/8h/m//b/KQRBTNSQeSSQSFMLNVRZTQHGTTTtocy/iudcoqY63yd/0blehaMUMLGVLKTLXCAmUJUJaISePKnmLeaNbesUaVDMcINNZe/mUZdWPlaXWU2iiZ//UHVHSJKQCJKEGRFCCNWRILAAAOONOAG/OCe8XYV/ajUhjWeWjUhg///ROSUUHAAASAAejp///zed91t/eA/y//S/bgMVgMhdYSnpbeZKYgnr9uhbXY2fWadcr/fhbaouW///j/vdpdqeWUFHAGIHVDNAAOJKYXaATgIX7tRsiXk/6YpqUggXYZp0/kZweXVkprjr/w3c8/RQpVdNOPNZTTQbNTWgjWPSHIJRJNbLN/3SZbOVNlLVLXbTdUZQgl1vhSLUTWVHGAYAANVa/q/cTOceVqVA///z/4/EJICMROHbaZSGBcMIFXaTOFKQKLLXah/geXUqyW//qd/qbwgrSLUGICHUKcBGBANEKVXSCVjLLjTAbXNecWDUbS3ULTJPUiVFWLKHNTKJNeGSFV5di/e+dTUVdbYVzZedpwy//haYjeizga/neWRSjVyRaUVZZfZaKavg02sbtbegLILiIJUfh/k0YWY3/cgUAa/Wry6MNHBORKJbSbTJJfJKKXZTTITVKKNYWZ/eigg/+V7ugZutiladPNURQQRiaqNJFIcScljXLasPJdSDaTNSMUIbaKrRLXPSa1iLaQLHUiLRUWJgTt/ONxV/uNRODMKEgQKMZbJOXKKXsRPYcSqTIRPOVIcQoaUWVXbjKeyYfk/9/o/oSNt/cXSRXzcnaW5//beVA/tpoRbhMEQOLM0i/xbNdOMRkcQWNRVSRSxqu/x+52//w//84+/+7v2mQPLJFOjRUMFAGhaeYQLHSeROeVIbecUQdTbXGVPHKKRbYVIREFDOZUhTQMbU3/THWHbWTgPBKHAQQGGTSEBJBEDGAAEFDgULeaPWQgSwsekllhnNefjtyeXVYhNFCihIJVZk/v7oah/0eobA/9///vVIVWSPyq2gdLTRPQcdXfeeeUWZhcd/nmidhsW8yw/5qlfhxeZYYdTTgNWLMHNlfagQSafnWJXQFaiWPSkRYXMQSUMJSdUUKNBGENXSeTeTSYz/tdwareZoaVfcYslggqkifiXcZfdcYca/iVMSKRRhLZXcy6mjhUbWcWfiVZaZNMHNhLLXbp/44ed9/wjwXAs/lNeaHPNICWNUILBNeaKSTMTQYdKHJfgf///2cjzY/sjv/25mn/hUWOSKNVMZGJDMiSLaMQScubLffNhcNRc/ennYOPVOITbUSMRFHCSjTdTjLMU5zdd1YoVMaSQVYbjhbYaUe37VSQYPSSem/fUajXXY4ScVcmeghgQYUfWeZUrhWJMLNnNIOOZ/0zVQSsce9WA4tXofXingdoh6chadqvXgweqcc/8ji01v////z//l//////////xZgUWWTca2PTLQrZV1UeXe0nb7hW51hw4/iueRWXZcUdhcdYmdaXq/axgfVcj//9z/i2ZSgaYbfikbcgnf9//thefYcgmq/iVZegrz/p3flzvsx0Wln2pvbUhtlWQSa3SO/0/////0w/////AyVcOHUYbz/w/ajabRVMTgWgUXf2aahti/jvjfsxb//tj//6ny+dbpVaeedZhPYXU9cb/YgZfwul/qj/73/0/u//hhfroZnqehalaaUfsWwgcWig1/PIfg2UGJKPZJHROalSKSbaLMOOEHLLJ9VGGONMOqPfRUZYWacLXYYUWfdvqjbYIUmLUcTb/k6cUTwjVjSARZMKWgTOhajfdQiSUWl9odRWajTXZdSqZdVPaiY//bUm5gaWfaNbCGGNZGQEe/TUGCWHMBQcXVmpSraUdcsezeJOUeWIUYYdQZOOGSdLcORINSj/OR2rtYMUNLYNHUSVVQNNMOIJRgysXGCiRHMYXTQ9h4XYhbcUcXaddZhZTZYPIDABUABWPb/u/gPOiqXdMA///fnTf3////V/Vd//4/n////4hAAAJABEHUAEKGOAAADAGLDRgMRPRXgVNPfMHpLsV1aZWYHLWAEDAAEFfBAAAaAAETC3vn0mhwycey/fUdz6uLHLeQEGaTSOjNUYHdZRCWHYhKTTcMJFPIQKNQTSNIXOCLFLTBKPRFMbKAmHGXAAAEACabUTU4USrQWS3SA8jtr49gx/w/c/Vhj//Q/YzW6i/AFEUJKMNcDGREXJAKWITLGPtTbUTRdiQLGKGxMrY/jbTVdi3XeeRMac/dLdv/hcduXeZUZcbhoQei/wSccaWWRW50SV/ieY1YZjW+xeTyWo+UgXfYbXjrtMMQSPRLWOFQFMaIPYWIQYTDwHKbBAANLEDKNMPxTNiNVHqPA/////j//t//////62v/t6u/ddAEFRIGGJeBERBZOBNhDOFIXyYYURKXfRGAGM8PvQ1docaHMKAANKADFaIAPNYGCJfI/5fnib//hpn//rx+nuYTQ6hQY/ncReNObU1vXLjUgsOfVbYQNdpbAFIHACALEAEAALADUJACIPFiAGiEAANIMGIKJPsXPlXwN9SA/hag/w2n//y4///VPmf//pwtJMOnaUWVqVVfV/hQNaSqUTTuWPLHNi/bKIVZwM4KyxxkbNUWYGECAFJZRAAIjAAAfRqlTeXMghSWc/db6wRWpnXsUVf1orcveh7f/qcT4o2/f/g6/ie3pdQUXaNOKbUEOFLXEDRRIQTXRpDLaJDGQHXdVUVc5QV6W9U/TA3//8//s5///////dj0/////AFEaPRVMcWRWITOHFTaoNKPaMPMIOjjbOVgU3V/HmfgghOfqOLGAAAAPEAABjAAFjIrsx/td2pbZh/gemkZeQWNeNfZeUbVuWWZT/nYToYjoO5fedSPXTTbcVkYbX2pRbSWdLKbhVahMOmEUQAAAEAMZYaYZwNW2SrW/fAj//k//mt/W/9/8SrP//fiuHWY/YXUb/cVmWcTOV//tdcftZdaXf/5jXZpc/k/R4rlo5TecALTPAADSAAAAdAALfKwph///zufll/nhimdgQXWfKabqccSnXXcX/+eTjYlxS2VcWUPXVgFIGYIFAPWAGAJWAAOWAKLIS/NSVDBIRNJXXo/dyPeyZ/b5sA/2///n///jkc/QZv////lAAAVBFARfEDTELEFDKPPMFMYTdYQGZMGEBOOnS2DiWTXUVqcANVNCHMeKHNJ/HMQgXzjShpjhtcoj/cUZgeiRibhFDV/icPgOKXS1mYNdTcjUpQVVQMSPXTVamXaagZLYMWrfj1/k9eDf/PDPAAHVFAPORaWsNVcHVPyuA///3////////////z///FPMgQSLSeQXbUjh0PQQVPLTdXYZdViYWRITd3YyIrXYsaKdXAHTGAHHZDAEDgABKf3/qVjlYo4k/l/aPWghsVgh/RET3VfX0SPbQq/9ggWj4chVdhVSrYSAELQIOQUPJgGM/ZMVWQgWKS/GALADKPBAYUTQc/hfqPUN5kA//j///7wXb///xPa/mzAGMaJEACQEPVIVUPDKEQFBKUQNKVddcmUDUX7wqChNMTPAGMABFAACASBAAAVACJXP/2j/8o/2gjw/tai4//YXiyXLXyb/+5TRhSv3cPgVw/UbclYVWybTHJTZOOLaYPSDO/OIgbU6xWHqAALDEFRDBINONY/YV3NNAiOA///2/1/i//i//cz8//AMLVPIAGWBMWITSMQXDWFGSVORLPfdSQOJ0i1W2KrZWZbGNMAGHAAKGdgCACfAEY1a/tbpki/hbWd/pUeec/VLcgNKRbRjRcKNgRf/dUtMf1YiYcLTYjRPWUZkeZPcSKPKN3ILjWT4jJG+BAOAAANIFdenfo/ug/ciU/YAz////////////z//1Wrf7ilbj2bgwe6xce2Z4dekiYhdgmpbUSOie/a/W/piedMgRAQRIGKLgeECIlAAc/r//g51r/0tt6//k8up/9e//gZbogjb6xd5bx/4d/j//4/j/lgerofPayxgcShhfcaY/NMgeNZYcu/XMhKIOhWRx//////////4/6Ag//j/d////s/j/7/ADIcEPGQVFHRCMMAFUAKEMfeSZWWrkUROPVW/U0N4ioegKhLBNJFAADeQEACfAAGeb/yPgYP9fXbe/dXrnh2wbw///otjjb40fyg//wf////fzl/+dcnucBh7bSPNbaUPYS3RHddISYZd/YJcLGGbSPat7////y/3wY/jA//4//h/i/g/icv6ITZ0cxYflOb/XfacXfXeZhUYQXMS//RPLQTUxMqGlWvZVHSNAEKHBADaAAAAoGAIYJkjMbYKldRTZ/XcgqgXXPfyl4UdSWNcTPia50aQis/vNXNVOTSdXLOzogvzi72gdgp/ias2YdgXY/ODUIDETKJIbZgcwdplQUJ3OA//pn/vP/dojia/CRHSFSGQWAV/JQFCAKSaJMRaMQLGLfPIFNYf5OjAbPWRNGNJACUFAAGcAGEAcAAUiHs3eliW0ycZq/bjhjqjcLVmWONYQYOcih/wjiXHbW2mKXMQJPOWRLAIRNSWXaRGJIWdJNebJKKLJyJIOAAIRGSSmaagvQWjNUM5TA/////////////BTIWIMEMWAa2JTIONgTbOPXdMUTTLYMHINY4/U+DiVXYUADCAFKAAAATAGCASAAHPC30ojgSgreWg/bUdiqqUHKYDAHYOcQbfk79bbaHVNfsMUBJERTbMLAEMIGGNXLAHBNRAJUSDJHTU3NQVEIZUVYWjeWr8Xd0TeV/hA//e/seR4/ZaoAKEYGEAKVCUgIQDDAgTQCIwgLJINTUHBSPGIfP/LhRNPTNYKAINHHVgeBACNwALSZO/////v///9///r////SLPeQNUbPVViUa1/zh1flTiuRaMZccdiVVANZWaNJaPLcQTgJPeYGPJFFgAAIAAADIBJfZT//ghyNRG7lA//iT/QpxYusAREaOTLWaVYhPcPIBakrWPblcSJNJXKDHWcZwR7EnWSbhe3XHNWddXfsOIKPxBOc1y//y4vcuzjhw//f9zw/xnerOXu/edc/ht/x/05//h8/aga//lu4jpBLduXMIfSJWRYjKQdcJSRNL2IFXJCIRTYTYYW//gk/ZaQ/mA4/lx/qQz/9AAALCMBQQAHVUWDAANSPPHXfLKEIBSNAAThEgLhA0fWdbXTMAHVQNKSfJAEJzAFPlNflaohamvbbc/eOcpe/1pgnERgrWSQoTU1etm0fhMhsOVY//fzfacTWdoXQLfZNUXahUXccOdcAAgAAKAALLAIGLUZfjSh/1aKxPA///ub4//iALDZIFAEVKPSMbQZIICLHHcuXgWTRkWPPccR3QyO///tiKMJALfQIGLdKAFN3IFHcJhnXdbVptRUc/aMYjWYPIRsFJJZYTTzZQeTghgNdJZkUjUWOVTVSd0cTaXVNeeRafbhQYaYLWXID/LKWGGMTKULNVQYiPVrPdS9QAm////5/gHz//SSPUqSixf/ghPSYdZVWWLhTJKgODBEJU3JgBidaZhINMAPSIJBFUDAADfABFdU9xahYMZiRfh/TLYcVb/9//iuy////////////1/4////+///////KKLRZWGWWLbSRUCIXQCKPSN/ffcIMX1UZOUeYi1TT/NYS/PAfm50/PcAEX9FHMOZAGZLiLBADMdNEYfVeYRRtYONUUe/Y6U0eehzGKNAPSCAAASBAAAZAAAOA2uj/sd5/v9u/fZq/z/XYz4m6Z//jSjZf/WkotRiYhwe/Taf3YgUQANGIEICUbRbIGOBSeQENWNGzDFPAAEnEJMUaSWlPR/TYP/PA3//3/RAAIjFRiOXEHUEbKABMIKEHYbQbaWXnRNVVQV3PwQ3deYYILJAHSDAALZSDELhAAGaGlik+ii//cig/gXjxo1aWgoace/lpYnXbws593aiaqyZhTaYaWaUVUfYcbcRhwqitem0//ear6MM1DDSAAAdLLScdXg5he/rgM/cA/r5oUAHLgEWmRdTQZIXPGFNENLQRXKLLFJdKIIJHNvMnK+cVQRXVUBXbPHNTjYJRXrHKQ0RcaXfYZ+kQXg/XOTgfwaRasVVx/XgaiQSeas8jTmcyzSYXXQRVWTVNeWXaeKUhWT8VROZaSFSSAAvDBJAAARYUYjlbn3hwyZbK/YA//Y/GKFaHWWJfLNWDKCAFQESQKLcXPLDDZSFJLEJ+UoDpYcXXLLLAOcaDFMbJAEFXAAFyNqtieZXrzchp/aNVdXcZVfxPQr6fjapXcrh7/wXwa//th1gXceiegLKUUSbGYr2PJLNADbvLKKDE/IHPALAMjSLXqbjoNNaGPAtQAY+7AAAQBMNbvaSkKGAAANAEAJQffUMEHfaIPaOMtN4IjVgaXVmdAMRPEMQ1ZPJHkANU8WmhOTUTcZXTY/aQokXXTyjeCU9/tWKdOUYJaegWnMhndaWOEJQbSaIAHPKPDTVaeKPVEGYcDLJAAnEEIADADGOXdiag/ZXtRYF7iAxcDKMbTPLapgbhRfXQShLTJSOYTbNIf/eJMMee/d/MjWYRQTobARNKHTRsgNHEqQRUuV//WaYTheYVd/kSacYXNOYmKevyzti3UbjTmntXkRgjOaYaObgpXVCALVIMDYOGXLLYQHYUOWNfb/5plQNUbb3WZcbh/fm/amK8gAQACGdWKAQVLPbNdLDEMCUFHRZPfdOUfQJOMcn/f/PqbUPVczeNeafbne40eTX//hw/dpuUXSQjdbar/fJVdXVNCLeAELUYibfPThOefcGYLloJYigGKMSOTGNebPMDWKAMhSYICPOLVQLE6PAIAAABABOWZci+Zy/QaJ/bAAAL0YFALPAISHMBAGAAGAAQaJOULJTNDMEHIqIrIhUMMNNaWBXgiLOVjSEBLuIIZscnWKXRRaYRVZ/YJTePSmOVgLQVdhrbkeWjW4xgNdSfqPl//SWSYYfAFNVMNEXMAFNTWEDSLJNTeP/cWdNMNROOFNPOSlOcePwM8WA6///1/////////w/2/P/8hsNTagOMdOddcbbdgOfOWiVQIJPZgTJUuaPZMMSLcRejNKJHLZQZKJTHVdVbZoOHDOdjCKUOSAGCHAPIRJABOFIIZYHAARAAAJCTJWLLfKPROSTPOFYlNYJiwZUPaSCGFi/Zgk/h/Thmrg7Ay///u///////d//////sOWCHJSGDSCVVWTWUOAVHReMQBDKQWPLSpSFPNKRVhGTaXYURXvi/fUjqz+ael/igZi//WcZb8Uhhii/u5sXwiZeadabOY/kOJaGZPbQNkNWUSXdVTQg3YXEbedOIUYCDBj3Wei/c7ThewevA////8///j////3/////SdRIHVHHOCOOPQaaKAdJMPIVLRZYfVSa/bQZTTeagIdyVTVYQRLYNHPSeoWca/WWJWt/ORIJeFXmdNURaXRQSadUaMPFKiODMTJhcfZe/mfTQRZTWdt+YXMhhWDJbUEHN71glj/j+WgXki/A//////////////////i563qvWbjbddebwzcV/jspfXXmggmacn/iZiVcirzUo/7jhvpyj3ohhe//low/Vfc1//WcaWpQcfjakdgeVJUo/ijRhWTkVRfda7p4ji/i6ijdr505//svh//dQeuhVe7//g1+///q2p///A/////////mi/////gIhUUMSFEKIMQMHOUIEeKLJAGFNLUXGLX/hMWNKONhIU//QENOMKZUPOGfiECTTBQLg/vACKNOAAIQESOOQDEOMSJBAGBBUCGPHIfZaHLdNdXWISYVSp0OSK7iTEKTTIXcjhNUs///WgXjeqAz////////1///9//O3rbadURNJMWZPWieV/OPPHdVXXdcOPUxlVdVPfThZaz/YJScZQVFELITdIFTSJUKX83CGSrhHFZ0QhcWWIKUNaUTJOIPnWVhTMjaoUc6dlVWWhVYc//ZWV/3ZNNfjQYh//jj7///3/y/06A////////////z+/TyRRh9sQPKMNQJTkfNrQagOYHPZUXLYZ9cPQMLgKigfdPNHPNSOQBCRVPYJFVTIWLSt8GKNZWHDPcFZbTPDGPNRNKGJHLhSPgcZ/dxdj6kpYcZoYj0//lhh//VITmrNSPh/fer/o/n1j/02A////////y//6//AQHJRTBAAAEHHANSLAPAJPAPGVgdcJRZ/aSTTWeOst9hHKDGBHMYGDFHNlqGQXBGADZpDODFLAAEMADJGAAADCIGAAACAcNCJIGiOdSUiUYKRTWHSSe/bhd//hTYecJPOa9hbh/g//yh/prA/////////////TbGNQUJJVIRRKCXXOCXMcqMSY/gXfNRQyWRUQVWRXIfYNUPXFFLsjPHGMZVDNZJJGSfhAKAFWHAEPAQPPGAAEELTNKJRGfMAPQM/jqUSrYZKLVbOcUh/ogX/0XPSYaDKGg/2py/g///t0ovAy///////////UdNYUidghLORPQWYWShPZhSSUfNRWafk/xYbNPVVTJebXshkabZ1fbddgvZXcnVTRy8rAQNJREGXVJZaZQDAPX8hgQOXLeIHYTHraeVf/aWOMebRrci/YdV5pPPRbYHLKw//in/n/tibihnA////////q//PeLQNaKKVIRPMKXgSLaIbhPBAAEPTMNc//MPCAFCVAZTU1ULMdScLJJKUfQVPWOLAKejASNHQFJHQBaOQHAAPNYLHDHAGhGM4YEdaZPQ3QQJKVdZjZg/NMHhbFAJSOCAAf9hej/m/2hZjt/A//////////X/UYUiTWpYimYQm/ii/WzyYeSTbuujXc//ZyjXdh/e6/b3jeTZSfWLLPciUOQXTUNZ5/X0dhlQPaxRgkplQQhZ37xQYKV/NMpiY6k8///nnbghoejw//gn8//bPjqtYaa//////////////A//d///t/uT/ZgZjQXkLOUOEYwTUrNidNOBANTTREFcjMYMBKHlEXeWWUOGQTwiZQSXcTPPTNVGS48PdIWZICMtHdWggOGWQYVZJRKLeHFfio/n////jtglhxr+///ycOjiFAVWSAEGd7Yeg/b6ahZjf7A/0//////czSbfsRe/VUWWSgwcXtUoiSIGENKNKKQgwTRHHRQcIQWSRQMLVUeSPQNUaQWQTLxFMknAHBNOEAHaAaPTVOTTRTHJHPEEWFGYbTiYz/r3XeTUbxkwow/ZgU//YVYfzObWe+Zgo/c/gtYcc+A1///W/7EUAJITALTAEJddUQHDTDQUAROPYZeQSd/kWYWZfavWigUSRORgVbNSjbfhRaVZP3ch//IVMWcJCKaBXORPSUTUcNJIPKZrMHNUKaakfelQZXWa6YoVf0TjX/1f/WbgOeev/ci//f7cpgjm/Ap////6McNWQYCLQIPOMOUUNKbMapKJGBHVWFKJhOMaRMVv/PYTTYcRPaWjZTXUtrRNTbJPLZ0/LXKNWJCLYAOIMICAJKQPMHIAQgHCJJBSUbVcpRizzSYIeTarNVNsgNUSYdKVVhzYg9/b2nmggf7A/7///b0mxcpSliYafUPbddUsUcnT84j5//u7j/vj3s//03f/4fv/3hvt/7beg//yhp/OPQYu1KYEFKIEMeDLHPOFFVLMRJNMAGfKHSPLfhjd/zdoo4TdOdUg/UeY//YTf4/edbu/dg4/l/zwtug7A////djbcQXEJOHQjLEPRTJfJLPJROKcYQLKK4eQYN+/lTDUVIMYNJUZiRGKMjfSWOcWk/f62PbLOTXSRoXYUjeQStUXdQVhJTsPMLKKfu3t/mWfSVLeRVQi/cUM//NIYrsaROw/dmz/h/7//7x/A9//XZADFSAAKAEOGAJNRBVDLOYWFJkdUNROtWKVNcebSCUWLTXRScXYNLPNeeLbLULbjq/+NeORRUYSbOVTdbLLbfacMMhWd2VONTTj0/eynSXOPLcPTPg/aSFm/KJNRQHKHk/o20/b1gvjlh5A/hFUAEJUAAMAILIANdcHWFaXlNAEZeeraUsVLbhjZqZIYTx//+////27////q36/MZc1//TcViZgddgKSSgYJGVeigSNZRXrZUaZW3//d//TbbjTfPVSs/XbMt8PQabaWdX//////////////A/VpMQSbMMcXjaPDPbXNlSsbNWbbp0ztUZ0aSYUWXxuXgYJSQLVPQZWPNTWaHLajdib3//dof/u/ouqXmhzjXYitqkbceacsYWtod///9//fwgih/p01//jYLq2RJPbbTXi2/6zx/8/nzn08/ASfDGLbRHRVRZTCKSbbqFWbKSkPc86eOQpVNSPaWbnakWISMETKMZeYIJWYHIPVAEAGbhAAAPBABMDAIABAAAAGMEAAAADOAASeSjg0mZiSdPTRjUci5/VQDdfNAASXHKOgsYaj/y/bebjw/A6/8x+/1t/j///yb///P9//aUhk6/ceulQVhYbaUWSjcXl9/9aY///kqpWZ7XhcpXbajYccri2i+bZ/fW/YZUZilhZek/tymUXiUZURaWTTX/SjVefd/veLXAEOHlXTuGSYOet0UWiaRZhkA3/b/uf///3Ysicny/T//4kZ0/3/ag//cr/gehZkZw5TYbnZSO1tfYccURcJZbbLTQZPPLTVeWvXNnaO/jdNNb0iNcd0elhYauVacb4leVV7e/xwr4/fjexacaPdYa/XqrWj//ddopbp9+A/Pa//5hr9/ghp2/Ulz//0g//p/mq//h9/tmrg/h0/x/tzrni//42521u4YqQePbLTHOOVggViSKqbS/ciRMPUWKUWwVXhZlrQYgriVXXX/cqfqhpkZVFdRfkGRLN1Bs/vwz/fed1eqwzA/eT7////g2p/bzjwP/ebV4fW/jdiUQdqaVVPWSmjedPafUMjfWdfZJReIRAKAGABADCHYZFSAAUBAxCGAAADHAAAXGGXWeicfc45WQNU0PVPXWOZc/d/hp3g0gi/o/4befyeWWnTZdfAbRWwkPcRtUo/xtVQ/gXHWZc3JJUKGTcQILDAAcbeZOegUV8zvphcJVwOTAFAFDEDSYKUeIYEEbGH0ABAAAGhSIEYDETRIWYRPNQPLFNmWWHTZJQTnQkKMONeNO/XkdNUTeSPOTHRUZA+VPSWbtWeawUSZax5UDUZbsFJZPEQXLJOGAAYWNSObSJLww2nTQDPjLPMNAEGKEFINRaEiPKhTY/UURGBDOIGQhKJNUPdWLPHMWgTXtcYMesNTWkViKLQToMR/TVaNPSePPSTMaRZAm/rdgmQ8Y3/fb//tPBSOQlNLbOGXTKNQHAAYTAECQGAAcXMcctLMZDJHNAAAEAAAFIMAYDBfYg/AAAABBDAABYIBANDPEAGADKJAAUHNOzjGKKTJSAAGOiGTpAbiLTamNJNXVhaiAjU1VXR9/6pgbe/SVMVKMlHLVOLWSIFJIDAVQEHFTLHDeaOcVZGJbEZAJAAADAAAEJPPbBGhOS/AAAAADAAADbYDCZKYRMJFOXbOPhPdu/dJTUWAQABaKWAOjAMYMZisKEGFAFRfAPhwcq/g//UQ//3dUgYk/OXfaTahcUaWNLcaPWXmaPGioSZaYIOeMmMYRPEXHOKVdlYxUc/bV/LVOQUfSORX8/eZVQfVWTRZWRRTkMbZ6/SaefLdEHSNqVn/XYhd/9/dbcZcbm2A/k/iTn/yX/ynjLDPGSrAJOIEJUTGPcOBOPajcijjVq4ZgjfSa/c/AQLGANHPDLSeGcHGiJAwGLAADJBGPShLENLOMAEEMaIAACbGbMRaCLMdGTAAEBdDHeDSXRickTPSShdaYAbTgXnprZ4g1RZZeUc/TVbRMYicRWVgVufEOHOLIERiTWdXKSsReGTDDARLPFJKWL2LAYLE3OUGCBCCEKVmMHRajfNPPSdUSaZ/doRafRcY/m/acfe3tw/dKXKbTcNOIMMYaWAyYTk92Tt//ZWJTMS/cSTIFMWONOMRNjTEPPRLHFUhXiXQCM/XRAGAAAJAAABAMAdBAOFAwAIBBAAAAAN+HAABDOACMIWNPOIcMQAIGANIPARAAAAPRKiDMLAQOXKCADAHRYA/Y8rmppe/2aFVPOlQQQKBJdSURMFEWRGXVRYTHSULgVPDMwURIWPbIWAFAFMlQlIDeRI/GHBLEAIEFU8SJNOQgTUdKcaNQRhNYIWUKUVSATCGONifRuPPOHhafQNISSZYhAbfdjd/W/u/d57//heziRa6s/jYXgrgLchaYXMemYkYYKQdLTNdKMEePVHJPjNuNOqUK/SUKXKJMHIPlSPJEEbOKIEYcIFGbHTIVffTNfQdNNeSwbZ/bVTNjjiVVPRQSUhAz//Qqj/agNdYWwQKVMANdfgcSHOVTOiXVLQWkogbZWIMUCLFZEIGVJVTUTaHlNEgSc/gSJNHIIGJQfPLHEHUMIOTVPFHGcHPKZWUdZXGODAKAVFDdANUM1/vUWdVSSWiA9/89///fSp+t5ORjbNWkkaigLPebPiLTJICbZMRWNACPBLEcHKdXSQLXRUEwYDYLV/DDHJFPKYRMhdeLfenclppjndgz/fnj/2lykhKYJISObMP/EQcNcjzSQWSNZktAj/d+/85aq31/SYikdgjeelYPSjlo/bgaba6wZfjfVZiWgDWMVoXQNEXcaDccPeQR/GIJFEHIciRhYSNWgjefZUdgYQg3TZSijhiWYJnTQTWlVZ/JaxZfl/043if/90Aw/x/x/VVQXkMQTOLNUNTMAAEVUHXLPEHIXZLWWSHCQEKANJPONMPFNSgKYKGWID5LGFJBFIPVSbIEDBHRSUHKPUQAIhOKAINMRJSCeKIIEPKX9AMcOSSfPWIIDOXVATb/egRgc6/WcjaMUcdrjLQVjhKehZMLOUVKUVXOHXMRAFCMBKAGMNKiXfJHZOF7KJCEAKRTKVdFDCWXhyxaZbcjVYvVdYgzjfeLARAAAAINVpAeudu0/etXaZevjA//0WMbTe+LPnmYUaRZYKNOaYPhabPOQhiXZZbRQeJbFCAAAKABGSKWKlGAYTW/KYFAAIFGTR7TRKYLRn3PIMNRNKdMZMUUMTeUNVACEAJLIhARSEU4/PPJLHKPMA/65g/ee/XYkmfj0kifXTSikQTNYONNdhVZegSe0VjPJAJMNDCAVNQAbHL+TRxAFDEGNHDJEjPGDZGRhnPGaTQNMsUdSXUTecjVsMORLbXX/PVRNdgwQPOUOQSUA/uWqge/WWiaXbtfjogURm3hdYhZYTqtbkrhPUl0zVXJbjePOIYUbN/ea0WT/MKIPLNUMRK4cRO/clhifT1pjkc/cjaw47/opa0SSZWoYZ/ckdZzw/rbUm1jegAXLVORpORdQIPYSRXYRPbYIVVbNLW//WZbUIReyTALAFFPAIARbaAWTJYEAwKIBCAAJDDAeSFAePWEGJCbZRQMuVVHbxckRTJuCFLOcGFnCQbTgb0WHFXPUUaA//////h///////1/6///Whlzal////8w/1/l/Ze/ggk3dyY168okih4k/Yemicdecaedaycs/u2zV/xibngut/jg/9//si//qsjeejir4b7TTurOIMFELLHA////////x//////////dpi/cuu0jvfm/3/ezeZrTYSZNbIac/hWPQfTmORuePQRVOQRIdLZyn5+c//zj/v/3/il/7//tch1eifYXfg0/euSY/uThhPSgcVA/4////ibyk7/4/o////zu/y/996+ln///6/5NmPPQdMPAOMkngkVobrXbiqYPIDTQYNUHV6uz+n//qcsj/5/jq/2//zn//ptncafg3/i2bWmjP/cSYXjbA//3d/em///////3//bdezWjijfiXW1lnZwaOtPOWuOSDVIOVcgLdc10eMLJLOGSPWXWNZqp7/m//pco6/v/j3/2++oZorkehtysbv7Ysogn6h/sPVYgTA////////////////Zgo/oz4//3fb6x2q/kVzZe/6ahQgOPUb/Zig9/hQPQUYNYbYefe//22/n//9/5//v/l0/9///3///t3///22xVgWTh+SabMOVoQA/9////h/////6///////////////////0QqYfomSbVnLOTSdUab/ocNQSXgYVURcwb4/4q/0//2/2//4/rq/2///gm/mgoq03jfjeiYd8/WUeYcYgWAmg/3/u//m/////TYWjPQRi4oUi0fgQiPJfNQTYEKAKABLFMVVc/OaRLDIOLHGGPqd797h/e7/k2wn3h/wi/83/sad8dZUQWaZVcbiTWn1MTZPnXTJA///m////8/S//RZcoSXayrkez/wsVkTX6cfnpSZRbUVhSYUdh/O05ZPWWPTZbYj//nff/Yz/sowfpi/rn//1/xu0/5ofdf//rxSlZQhwOXUGTOLFA/6//////////dmw/jgi8voif+5/izXHlSOQXIQGMIKYGJIWViAJHGCKGDJSPGQScjec7c7/xivjor/63//4/4vs//4nbd8+sxVcTRu/QSUQXMMIAk///////a///xn/stx///7u///4/fEfSRPWLSIMLNbLNIRRnDOLUOYLHIROGSKU7qk/3///nzy///////9/5eh//5vZZo9u8acTQj3QQOKUNOLA3/6//7////pbV/tbaqf0kYrj/hsTIycWTcTUDOZMNNOKTZ+GQKMMSOQJZVTqKV5vy//5zqhmojo/im//z/gOTs3jwROciXXVcWUk/TVSRdYVNA7////////YWW/zfdqi/nWmf9bsYP6ZXZiWZLXkNSdbTaf/LeSMLTVSPlbXsTZuht/1//554//1/nw/+3/0gi/vq/7eqtikj6/v//mvyzyzueA9///////PVZlYdafY55Z5i/x//PcIEHQAIAFCAFLGBNOgAWWHAFLGDMKJcRZmZf5Y4/0/lu7z/ih+u1/tml/z564f372wFUTETfDFJUNKRFA///////VVWgUccjd//g/p8a2rW8hPOaJWJcSMVWTPbXrJPNOIPXiYaSOULTfaf2T+/0/eZjm/jh/jz7eWg/jnYUSivgoQaYOeiDDFBDFPSAc///5//xh3dohofupn/ptcuWGeWGGYEVARAALQJANRjCDDIAICCIHIIWCG///////////////////////////26////TfbVigDIHAFJNLA/////qhevaihqejWX4giTgNFdKIIeQWFRAANSVPPPeAAGMHPDBHJNSeNN/qj/q//fcldrp//2/////pn/z6gYk03i5ZxeMngHRWQSXWOA////rgf4dgh56/ej/13dzXEgMSSdLSFNAAMJKNYSgEFGcOTNNIFOFPGR2ps/i//rf7z/6/82////tVYrjlVRh72iwNddP+4MeUKJRaRA///RRSfWffv2/Wb/lzUiRFbDMRUAFAIAAFDBJWNcSQCVEGLCBBHCOHNecq/W//iZz7/2/mk2zw9sXWgXzXSj/lSbPZSHg0PRMIQbgdA//NNPdVcakgjPYth4UbSQgKMUZINHQCCKEFITUtQNAQBGEAGJFAMGRym//x///y//+2////////vqyi/iZu/9acCRKDW3TKEDKOQRA///////////////////j/fe8///ofXYmjdYq//YdSfUWSPdsfUjdl+y//2/////y75////////ks/x9ie435ijYurdy/lcjcg7+zA///7inz/78m////t/5////////444r141w///7/p8zum0///z/491u4/m////7t//////////ky/zmhm1//11axtdt7hkdWVaebAicP/Z1VRWi/wwif//aTWfgOZVlPaKNXSOnKdbXU5geW/zWHVngLWVOUbk2ciYhi95VU/cYleXX/ONWeQwgLLMbbVZmzgOQRbdRAX+Q//lunPe//Y//qdek2vYbYxbifejjo/Y0wdf7ipe5/qWl02YOWQaggmOXXkfvZJMrYSnWeY/PTbvXzqabVbXi02/rVcZhtVAubp9SWfeS1hg6t/SPTZRDLFUFJMNRPQ7FXPACTOXKRXTFOMZOWTLYfXeMYbgx8YNOsTLQKWP/KUUeIXXHGKSXjdo3bNVdciSA35f/u+q///y7/qWi80fTbYpSafpqeW/TxfTjzeugpgedcacQRTUwgc0ifYejjYSMiWPWOaL7GTVUHWYKITZikfz+rZWfesfA///RR/S1/nn/SGLVYXLKGYFNGUedgtGdUNmhUWdqaYYQbZJdaVhaj/ihcnoqkhc2gZeTfV/VifaSjgUTLTdjm4urlUXa35A//rd/6/PV///LLSPRGEBVDLJZbWimKlWIUeaVSZRQGJVTDLPVbMQdPSOcZbaWWifWWEWL7MSUMJffTSCEIVivgTSLQVheA//se//bY///ACNVXXFBSAECWVWNbKeSCJTVUPPLQPONRETXfWOTeOZX///hROujvYLeK7LVZUP0ucwQOSYf//fSQZpjhA/+VP//6/d+BAJNMTNRgGFKJSLBTHeTJOPIMPSILILJYPuknWQWhRlm/q2vSQunoaYxU/RYfaUysUYPJTTYv5cQPceYZAY/d/Pjme/aSYjYTQt/bZVRaYRlU/2eagVglggYPPUinigkgikva/z/x/lUU0omghfQ/QVgYPy/WOBAEHPisSGLZQLPAfYa/VU6/BADKKBAAPEEDCQMGfMegTUdamUKdKAJKIFhw/9/////s////kp/4x2/kX/qZtUHd4ZJFDGHOh2YLKQQNPA39z2c/hNKSVRJQObaWJLZcX/ZgZSac//ZUtYQbTRSWewr3//ueXhj/jcj9hl/rp6/wYkWFYcMHMOQZg//fPRh32hA/QRYdjofiefRdWt/dQTjfPqSmYOUb6fWdjYKSQWSWaYeh//vfd//3ij8/da0Zit/Xe/jSoqTSNXeYX//iTchjbSA///1/cZhv/bXUzhaTZwoVya/wWf06gcosgPWVbTxmfn0//pnn//zrvz//03ilZ/QYiYOgbOOOWeWW/0ldjbdVKAh//kWar6sUTSoXfYbkse8i/pWbviot1vlUcei0zbRZhq5afdrrmgcV/6jfp1L/KUhRMZWLLWfbYi///9dWcYPAh/eOp39gNRPfRSJJVaXeNrXKNbQTOSYWKQVUUSMGLQRiRYVXTYYSPsbRSf1T/VXXNHVYRJTVWa0/9scdfmldAi/HRlibMOKjNKENcZTfTgSDFXPUORWXPRNPXQPKPbZ/dVUWTUNFO/WMOT4f/LUSMFQUIDPQWqp4xaQSg/yaA/DFUbVFKIdKMHISTKeQeXGHVSaSPTYMSMTSdakcYa/hdYfijbMQ3ecYMWS/LWhVENPBAaUecg//rXWc/wbAHCGNJAOJSADAELMCWDRXFBKNQCINeHCDTPccgsqZoVcZdXWWMQwbVVMaU/VUZTJlhSLRUcfh/8nirhwtfAmWkamgV9/aj6eUSixazzvUdjSWSVeQaUdBIGQTNAOTLAAOKDFeNURPQQrqRMKM/vUNULANjjFMdRUSRHASVR//q/Qj/5p/7bR7Zbsq/q/VYSTYd//f2bdXaNjreSazjTTqXagiXX7/YRVW/0bYihGZxsNUmXfaaPAX/gvT/h6ljlpcST0invsjS/s5PbUigdbrOMJQFZOSQRWNIMtTLTbdVy/aZZcx2TXgVJj+8c//joceVA/gRj/za/1deyR981/j//zndRhz//qdUcOIJSKeOUGAMKFMfKEVhgRv/bXXmt5QVjYPy//y//emgtoA/ZU//q//3/S//l4a///XUm3/vyqPeMZUJKSJlYbGAONJMdLUjbNBYjONSZPZCIffKa3sRcrTejjlA/2//f///////bg//zb5/eRgvm///e62dXgUuygPNecZc6Zftima1/kWbg6/ZcegMZ/3VTua/+daAo//S//ecSvq4Rxa0oPQP3ZSr5S/h4pMGQDTSOAOiPHL/TLcX/0//yafZ0/cciaZn/5ac/l//jdA/p2//v/P65/o34/ea+z3mQd/UjKUPEKbOVRMAHZSHCwRGNLcdpiSPbLbnJHqed1//ae/z//2pA//////////////////c////i/QXWMScMaUTERgiaP9iYfTMRhiNHVHVqKFjaY//+VhuRcisaAo//T1Pt//R/7/ckTVQktSzR8FHLJJMANKMAAHEDGkQLXQMNeiNIRLUlSKWNOpziEUcGVUWIA/zuRU2/aY/tegQVbST/kl/1ciidYiTwpqWOcZVWxbX3xwm//oh0w8/udibe7//Ys/bmgzbA////////////49//////j/bj0rjqX//vZUthgl/cUksZLiqJHUSZuZJeRLcw5fp5Wae/aA/zw87W8//kv/aecv1pXw/LWWSWZJgfTEGYHJPiODQS/q//ur/5//zoaNEdprcZgOaYnSAgRvYr/ggeo/Ul8srd/e/UmeOUbPgcTBEbONOkUObRVU/8YYZUtyRSljXgzxeftXhZaTA/la/P/auSmSgX/je/S/YljUZhUnnkhcspbZ3YSfe/////6////z/uqht//hfxgphneATShhi4og8dXgVtSs6dMUSKRaLgaULKXXXUnPXcZVPmkKHOMhpNYdRMf/tPRjbVQXPAeh////rwTtW/XP4YeWgeQVZJcebRZiUUYvf/fh///////2////aQEc18OQhPPRaSAf9/9irRiaVdde/d/PWPHPOAOTWLMLCKJcOWPrrZaaKFJFZkGIVQNqp/ZQeJUgqQA///nufW/+//T/x/eaLJecKZZVRhURZR+iQTdhxtkTNSRioLLjbUn17Za8x///cAjl/g/U/UxbgPUeUmJKZWKYWPEHJOZQ0OHRao7/+aSXWl/aecRMUnoNLgTjZfLAx8q1qlZP/h2//ONFMPNHTQPDAFKGHhJIRRWW3xTRVSa/zdULSX5/QJcKUYkNA///eT/9/x/2/OLEGQSMVVVOFLJHNiKMPMKT6mLMbed/fPodp6//ve+i/x/yAd/njpRV7/n/bTNJsgReaaNPQGEP2SRQTZZ7mPKQTd/3YcSY/v9ijxVdWsfA/jTS/2i5j/YVNKdaPfbbQGOGGIgLPSSZUsiMGPHRthWdPEZotZh/ccYgSA3uWcvS02/VWQLUYQwaaNJUcYNiLPTU/5//sgsfw/7/iRIe+/WZ/heggVAhTTT0ZQfMcRPbbe/dRFBMOJKjMMRNSOhjUKVNUgWUXMKbvuYY2UVbfcAUVRUTWPIySPZYO/cRIGJGDHrMIRSic/7gVniw/kXXRQRfiUPbKSTZZAYRX/aUEaGFTSMpSJAFMFGGgLGXUKBXYONYKTdFAUWHMeyOIYKUScNAjVYZ6MYSXMWOhYVKgnSTNcJX/ina//mm1d0/iabYYu/+TU5hei5TA3jZXSXYdSbVghiOWjUX//VTjjQGevTPWGTiLSeQFf/jMR9XTahNA/PiWbONIQDZYkIHOIFb/SGQQaUr7ebfRdyTo/dJb/vYa7PRVbUA2fRVNMSYJeXdJISQLc6eQVSWclqZXuz+5YmsYIa9ui1/RXWVNA0EJFFLWBTPTCCMOLVfMJOMVZy6VKPSizrffUX//nXk/ehfmbAUTQQdlNdg2UNWURa0mhWVKMfjSHNKdu7PfZd//+j2/ihagVA69i/j54u/////6////h/gw7aWXVPVm/ZTRRPd4vjGISAYLA/q////g///////P////aXqVQOLHObcVeVRLTokiQPQFcPA/o/////h//////////YXsVQONRcqcQledVa+7/3qaPsZAws//e/c8/////////VXiMKNNYZiTKnncSTjq0bWfNiWA//9///////q/////bSiVQUNTahUNSKHBEWXgIDaAULAp///////v//o///nRicXWQTbjZQ//6ux///xi/g/4A//0///////////zfyedeZYv//bigldX1u2fUeMjdA//o///o///////9//58z1///7dTdbV3yyYPiNqpA///////lq///QKdRLPNUYbMJfWfde/6zSPlQvgAw////9/////OKaOQUJMScPIXPYWf2pwNLaNuXA///h8/v///fawf4lbdgxgiUTTRXig/TIUFiNA/////////RPhVXWURcnZYWdaUjmn/YRQBeOA////////ZVsegicXbsbaifkq////hfzS5eA///////YVzeilVaakbSVKQQRefkOGcMgNA2/8///UPgOPYNOMZTEdXaXPgv/YN/SpTA/0///TOfOPWVPUudDSQWTKas5PDYDZLA////WYkXdkcZn/eR2tvpt///3fre/uA///RSnt7ZQWiqYWcc2URji1VWSMrRA//SPfWdYVQTgUYRRlPLeewaWVW/KA/5t/sv4/w2///jdsbWu1/uWWU/aAUUmTTURPWjZfbSWUOfj/npaEaRA///1e////n/QYiuaxcQU/eOKbA///6/U//P/RRZYSvpVx/ZPHWA/////////ou/////dk4wre2Az//9////bcign/nXcjwmcpA/hZ/u/bLaVOZ1aORUZURaA/g////ZiXZu/dOTaeUTiA///0/hjUfm/lSUbfbakA/vPcXVHMOqbVUSTicZA/t/QRJQOzVLILNRQVA/zVUSZX/YOOSYVShAiZciQSrRFOSWKJcAqo3Xd4ZQXWWUXiA///f/w/oc/f/VA7/ums//zpe+sA///d/yXr///A//////////A//6/2x9/mA/////d//A4/c///jA//////Ahrx/aAcc/tAw//A//A/A";
var A="ABCDEFGHIJKLMNOPQRSTUVWXYZabcdefghijklmnopqrstuvwxyz0123456789+/";var N=215;
var cv=document.getElementById('cv');var cx=cv.getContext('2d');
var im=cx.createImageData(N,N);var d=im.data;var p=0;
for(var i=0;i<N;i++)for(var j=i;j<N;j++){var v=A.indexOf(s.charAt(p++));var c=P[v];
var o=(i*N+j)*4;d[o]=c[0];d[o+1]=c[1];d[o+2]=c[2];d[o+3]=255;
o=(j*N+i)*4;d[o]=c[0];d[o+1]=c[1];d[o+2]=c[2];d[o+3]=255;}
cx.putImageData(im,0,0);
})();
</script>
</body></html>
